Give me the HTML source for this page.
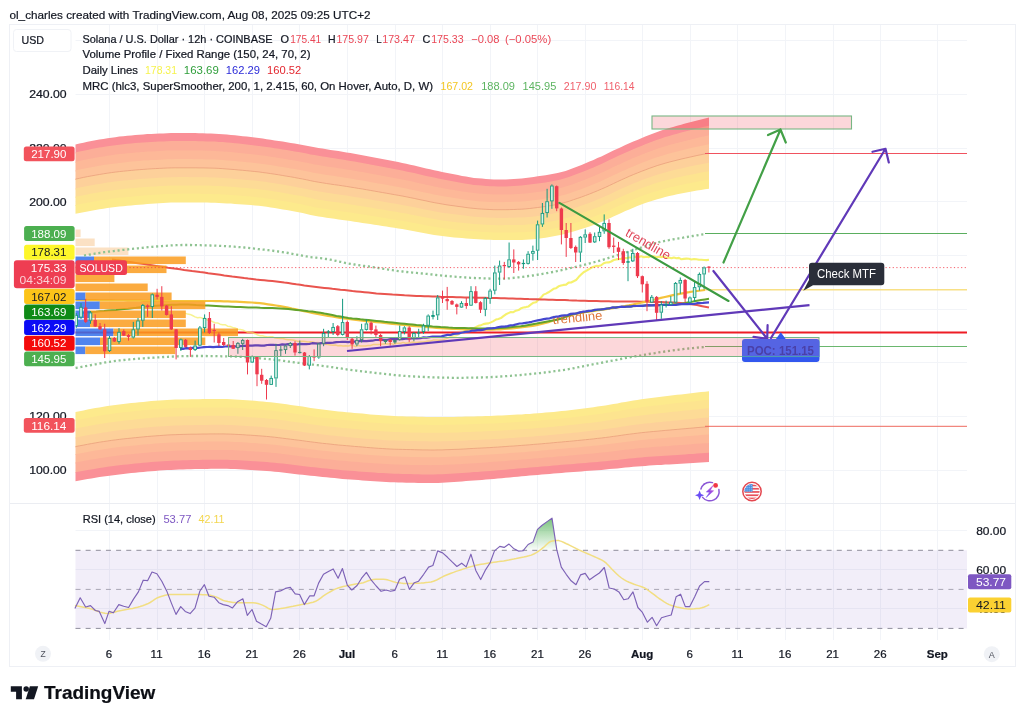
<!DOCTYPE html>
<html lang="en"><head><meta charset="utf-8"><title>SOLUSD chart</title>
<style>html,body{margin:0;padding:0;background:#fff}body{width:1024px;height:721px;overflow:hidden}svg{display:block}text{font-family:"Liberation Sans", Arial, sans-serif}</style></head><body>
<svg width="1024" height="721" viewBox="0 0 1024 721">
<defs>
<linearGradient id="rsig" x1="0" y1="0" x2="0" y2="1"><stop offset="0" stop-color="#4caf50" stop-opacity="0.75"/><stop offset="1" stop-color="#4caf50" stop-opacity="0.02"/></linearGradient>
<linearGradient id="bolt" x1="0" y1="1" x2="1" y2="0"><stop offset="0" stop-color="#6a4df5"/><stop offset="1" stop-color="#c44bd0"/></linearGradient>
<clipPath id="flagclip"><circle cx="752" cy="491.5" r="7.6"/></clipPath>
<clipPath id="mainclip"><rect x="75.5" y="25" width="891.5" height="478"/></clipPath>
</defs>
<rect width="1024" height="721" fill="#ffffff"/>
<text x="9.5" y="18.5" font-size="11.5" fill="#131722" stroke="#131722" stroke-width="0.2" textLength="361" lengthAdjust="spacingAndGlyphs">ol_charles created with TradingView.com, Aug 08, 2025 09:25 UTC+2</text>
<rect x="9.5" y="24.5" width="1006" height="642" fill="none" stroke="#eef0f5" stroke-width="1"/>
<path d="M109.5 25 V640 M157.5 25 V640 M204.5 25 V640 M252.5 25 V640 M299.5 25 V640 M347.5 25 V640 M395.5 25 V640 M442.5 25 V640 M490.5 25 V640 M537.5 25 V640 M585.5 25 V640 M642.5 25 V640 M690.5 25 V640 M737.5 25 V640 M785.5 25 V640 M833.5 25 V640 M880.5 25 V640 M937.5 25 V640 M75.5 40.5 H967 M75.5 94.5 H967 M75.5 148.5 H967 M75.5 201.5 H967 M75.5 255.5 H967 M75.5 309.5 H967 M75.5 362.5 H967 M75.5 416.5 H967 M75.5 470.5 H967 M75.5 530.5 H967 M75.5 569.5 H967 M75.5 608.5 H967" stroke="#f2f4f8" stroke-width="1" fill="none"/>
<path d="M10 503.5 H1015" stroke="#ebedf2" stroke-width="1" fill="none"/>
<polygon points="75.5,144.5 79.5,143.6 83.5,142.7 87.5,141.8 91.4,141 95.4,140.3 99.4,139.6 103.4,138.9 107.4,138.3 111.4,137.7 115.3,137.2 119.3,136.6 123.3,136.2 127.3,135.8 131.3,135.4 135.3,135 139.2,134.7 143.2,134.4 147.2,134.1 151.2,133.9 155.2,133.8 159.2,133.6 163.2,133.4 167.1,133.2 171.1,133.1 175.1,133 179.1,133 183.1,133 187.1,133 191,133.1 195,133.1 199,133.2 203,133.3 207,133.4 211,133.5 214.9,133.7 218.9,133.9 222.9,134.2 226.9,134.5 230.9,134.9 234.9,135.3 238.9,135.8 242.8,136.2 246.8,136.6 250.8,137.1 254.8,137.6 258.8,138.1 262.8,138.6 266.7,139.2 270.7,139.8 274.7,140.4 278.7,141 282.7,141.6 286.7,142.3 290.7,142.9 294.6,143.6 298.6,144.3 302.6,145 306.6,145.7 310.6,146.5 314.6,147.2 318.5,147.9 322.5,148.6 326.5,149.2 330.5,149.9 334.5,150.5 338.5,151.1 342.4,151.7 346.4,152.4 350.4,153.1 354.4,153.8 358.4,154.5 362.4,155.2 366.4,155.9 370.3,156.7 374.3,157.4 378.3,158.2 382.3,159 386.3,159.7 390.3,160.5 394.2,161.3 398.2,162.1 402.2,163 406.2,163.8 410.2,164.7 414.2,165.6 418.1,166.5 422.1,167.4 426.1,168.4 430.1,169.3 434.1,170.2 438.1,171.1 442.1,171.9 446,172.7 450,173.5 454,174.3 458,175.1 462,175.9 466,176.6 469.9,177.3 473.9,177.9 477.9,178.3 481.9,178.6 485.9,178.9 489.9,179.2 493.8,179.4 497.8,179.5 501.8,179.5 505.8,179.4 509.8,179.2 513.8,178.9 517.8,178.7 521.7,178.4 525.7,178 529.7,177.5 533.7,176.9 537.7,176.3 541.7,175.8 545.6,175.2 549.6,174.5 553.6,173.8 557.6,173 561.6,172.1 565.6,170.9 569.6,169.5 573.5,168 577.5,166.5 581.5,164.9 585.5,163.3 589.5,161.6 593.5,159.9 597.4,158.1 601.4,156.4 605.4,154.5 609.4,152.6 613.4,150.6 617.4,148.7 621.3,146.9 625.3,145.1 629.3,143.3 633.3,141.6 637.3,139.9 641.3,138.2 645.3,136.6 649.2,135 653.2,133.4 657.2,132 661.2,130.6 665.2,129.3 669.2,128.1 673.1,126.9 677.1,125.8 681.1,124.7 685.1,123.6 689.1,122.5 693.1,121.5 697,120.4 701,119.4 705,118.4 709,117.5 709,126.6 705,127.5 701,128.4 697,129.4 693.1,130.4 689.1,131.4 685.1,132.4 681.1,133.5 677.1,134.6 673.1,135.7 669.2,136.8 665.2,138 661.2,139.3 657.2,140.6 653.2,142.1 649.2,143.6 645.3,145.1 641.3,146.8 637.3,148.4 633.3,150.1 629.3,151.8 625.3,153.6 621.3,155.4 617.4,157.2 613.4,159.1 609.4,161 605.4,162.9 601.4,164.8 597.4,166.6 593.5,168.3 589.5,170 585.5,171.6 581.5,173.2 577.5,174.7 573.5,176.2 569.6,177.7 565.6,179 561.6,180.2 557.6,181.1 553.6,181.9 549.6,182.6 545.6,183.3 541.7,183.9 537.7,184.4 533.7,185 529.7,185.5 525.7,186 521.7,186.3 517.8,186.6 513.8,186.9 509.8,187.1 505.8,187.3 501.8,187.3 497.8,187.3 493.8,187.2 489.9,187.1 485.9,186.8 481.9,186.5 477.9,186.2 473.9,185.8 469.9,185.2 466,184.6 462,183.9 458,183.2 454,182.4 450,181.7 446,181 442.1,180.2 438.1,179.4 434.1,178.5 430.1,177.7 426.1,176.8 422.1,175.9 418.1,174.9 414.2,174 410.2,173.2 406.2,172.3 402.2,171.5 398.2,170.7 394.2,169.9 390.3,169.1 386.3,168.3 382.3,167.6 378.3,166.8 374.3,166.1 370.3,165.3 366.4,164.6 362.4,163.9 358.4,163.2 354.4,162.5 350.4,161.8 346.4,161.1 342.4,160.5 338.5,159.9 334.5,159.2 330.5,158.6 326.5,158 322.5,157.4 318.5,156.7 314.6,156 310.6,155.3 306.6,154.5 302.6,153.7 298.6,153 294.6,152.3 290.7,151.6 286.7,151 282.7,150.3 278.7,149.7 274.7,149.1 270.7,148.5 266.7,147.9 262.8,147.3 258.8,146.8 254.8,146.3 250.8,145.8 246.8,145.4 242.8,145 238.9,144.5 234.9,144.1 230.9,143.7 226.9,143.4 222.9,143 218.9,142.8 214.9,142.5 211,142.4 207,142.3 203,142.2 199,142.1 195,142 191,142 187.1,141.9 183.1,141.9 179.1,141.9 175.1,141.9 171.1,142 167.1,142.1 163.2,142.3 159.2,142.5 155.2,142.7 151.2,142.9 147.2,143.1 143.2,143.3 139.2,143.6 135.3,144 131.3,144.3 127.3,144.7 123.3,145.1 119.3,145.6 115.3,146.1 111.4,146.6 107.4,147.2 103.4,147.9 99.4,148.5 95.4,149.2 91.4,150 87.5,150.8 83.5,151.6 79.5,152.5 75.5,153.4" fill="#fa9097"/>
<polygon points="75.5,152.5 79.5,151.6 83.5,150.7 87.5,149.9 91.4,149.1 95.4,148.3 99.4,147.6 103.4,147 107.4,146.3 111.4,145.7 115.3,145.2 119.3,144.7 123.3,144.2 127.3,143.8 131.3,143.4 135.3,143.1 139.2,142.7 143.2,142.4 147.2,142.2 151.2,142 155.2,141.8 159.2,141.6 163.2,141.4 167.1,141.2 171.1,141.1 175.1,141 179.1,141 183.1,141 187.1,141 191,141.1 195,141.1 199,141.2 203,141.3 207,141.4 211,141.5 214.9,141.6 218.9,141.9 222.9,142.1 226.9,142.5 230.9,142.8 234.9,143.2 238.9,143.6 242.8,144.1 246.8,144.5 250.8,144.9 254.8,145.4 258.8,145.9 262.8,146.4 266.7,147 270.7,147.6 274.7,148.2 278.7,148.8 282.7,149.4 286.7,150.1 290.7,150.7 294.6,151.4 298.6,152.1 302.6,152.8 306.6,153.6 310.6,154.4 314.6,155.1 318.5,155.8 322.5,156.5 326.5,157.1 330.5,157.7 334.5,158.3 338.5,159 342.4,159.6 346.4,160.2 350.4,160.9 354.4,161.6 358.4,162.3 362.4,163 366.4,163.7 370.3,164.4 374.3,165.2 378.3,165.9 382.3,166.7 386.3,167.4 390.3,168.2 394.2,169 398.2,169.8 402.2,170.6 406.2,171.4 410.2,172.3 414.2,173.1 418.1,174 422.1,175 426.1,175.9 430.1,176.8 434.1,177.6 438.1,178.5 442.1,179.3 446,180.1 450,180.8 454,181.5 458,182.3 462,183 466,183.7 469.9,184.3 473.9,184.9 477.9,185.3 481.9,185.6 485.9,185.9 489.9,186.2 493.8,186.3 497.8,186.4 501.8,186.4 505.8,186.4 509.8,186.2 513.8,186 517.8,185.7 521.7,185.4 525.7,185.1 529.7,184.6 533.7,184.1 537.7,183.5 541.7,183 545.6,182.4 549.6,181.7 553.6,181 557.6,180.2 561.6,179.3 565.6,178.1 569.6,176.8 573.5,175.3 577.5,173.8 581.5,172.3 585.5,170.7 589.5,169.1 593.5,167.4 597.4,165.7 601.4,163.9 605.4,162 609.4,160.1 613.4,158.2 617.4,156.3 621.3,154.5 625.3,152.7 629.3,150.9 633.3,149.2 637.3,147.5 641.3,145.9 645.3,144.2 649.2,142.7 653.2,141.2 657.2,139.7 661.2,138.4 665.2,137.1 669.2,135.9 673.1,134.8 677.1,133.7 681.1,132.6 685.1,131.5 689.1,130.5 693.1,129.5 697,128.5 701,127.5 705,126.6 709,125.7 709,136.2 705,137.1 701,137.9 697,138.9 693.1,139.8 689.1,140.8 685.1,141.8 681.1,142.8 677.1,143.8 673.1,144.9 669.2,146 665.2,147.2 661.2,148.4 657.2,149.7 653.2,151.1 649.2,152.6 645.3,154.1 641.3,155.7 637.3,157.3 633.3,159 629.3,160.7 625.3,162.5 621.3,164.3 617.4,166.1 613.4,168 609.4,169.9 605.4,171.8 601.4,173.6 597.4,175.4 593.5,177.1 589.5,178.7 585.5,180.3 581.5,181.8 577.5,183.3 573.5,184.8 569.6,186.2 565.6,187.5 561.6,188.6 557.6,189.6 553.6,190.4 549.6,191.1 545.6,191.7 541.7,192.3 537.7,192.8 533.7,193.4 529.7,193.9 525.7,194.3 521.7,194.7 517.8,194.9 513.8,195.1 509.8,195.3 505.8,195.4 501.8,195.5 497.8,195.5 493.8,195.4 489.9,195.2 485.9,195 481.9,194.7 477.9,194.5 473.9,194 469.9,193.5 466,192.9 462,192.3 458,191.6 454,190.9 450,190.3 446,189.6 442.1,188.9 438.1,188.1 434.1,187.3 430.1,186.4 426.1,185.6 422.1,184.7 418.1,183.8 414.2,182.9 410.2,182 406.2,181.2 402.2,180.4 398.2,179.6 394.2,178.9 390.3,178.1 386.3,177.4 382.3,176.6 378.3,175.9 374.3,175.2 370.3,174.4 366.4,173.7 362.4,173 358.4,172.3 354.4,171.6 350.4,171 346.4,170.3 342.4,169.7 338.5,169.1 334.5,168.5 330.5,167.9 326.5,167.3 322.5,166.6 318.5,166 314.6,165.3 310.6,164.5 306.6,163.7 302.6,162.9 298.6,162.2 294.6,161.5 290.7,160.8 286.7,160.1 282.7,159.5 278.7,158.8 274.7,158.2 270.7,157.6 266.7,157 262.8,156.4 258.8,155.9 254.8,155.4 250.8,155 246.8,154.6 242.8,154.2 238.9,153.8 234.9,153.4 230.9,153 226.9,152.7 222.9,152.4 218.9,152.1 214.9,151.9 211,151.7 207,151.6 203,151.5 199,151.4 195,151.4 191,151.3 187.1,151.3 183.1,151.3 179.1,151.3 175.1,151.3 171.1,151.4 167.1,151.5 163.2,151.7 159.2,151.9 155.2,152.1 151.2,152.3 147.2,152.5 143.2,152.8 139.2,153.1 135.3,153.4 131.3,153.8 127.3,154.2 123.3,154.6 119.3,155 115.3,155.5 111.4,156.1 107.4,156.7 103.4,157.3 99.4,157.9 95.4,158.6 91.4,159.4 87.5,160.1 83.5,161 79.5,161.8 75.5,162.7" fill="#fcae98"/>
<polygon points="75.5,161.8 79.5,160.9 83.5,160.1 87.5,159.2 91.4,158.5 95.4,157.7 99.4,157 103.4,156.4 107.4,155.8 111.4,155.2 115.3,154.6 119.3,154.1 123.3,153.7 127.3,153.3 131.3,152.9 135.3,152.5 139.2,152.2 143.2,151.9 147.2,151.6 151.2,151.4 155.2,151.2 159.2,151 163.2,150.8 167.1,150.6 171.1,150.5 175.1,150.4 179.1,150.4 183.1,150.4 187.1,150.4 191,150.4 195,150.5 199,150.5 203,150.6 207,150.7 211,150.8 214.9,151 218.9,151.2 222.9,151.5 226.9,151.8 230.9,152.1 234.9,152.5 238.9,152.9 242.8,153.3 246.8,153.7 250.8,154.1 254.8,154.5 258.8,155 262.8,155.5 266.7,156.1 270.7,156.7 274.7,157.3 278.7,157.9 282.7,158.6 286.7,159.2 290.7,159.9 294.6,160.6 298.6,161.3 302.6,162 306.6,162.8 310.6,163.6 314.6,164.4 318.5,165.1 322.5,165.7 326.5,166.4 330.5,167 334.5,167.6 338.5,168.2 342.4,168.8 346.4,169.4 350.4,170.1 354.4,170.7 358.4,171.4 362.4,172.1 366.4,172.8 370.3,173.5 374.3,174.3 378.3,175 382.3,175.7 386.3,176.5 390.3,177.2 394.2,178 398.2,178.7 402.2,179.5 406.2,180.3 410.2,181.1 414.2,182 418.1,182.9 422.1,183.8 426.1,184.7 430.1,185.5 434.1,186.4 438.1,187.2 442.1,188 446,188.7 450,189.4 454,190 458,190.7 462,191.4 466,192 469.9,192.6 473.9,193.1 477.9,193.6 481.9,193.8 485.9,194.1 489.9,194.3 493.8,194.5 497.8,194.6 501.8,194.6 505.8,194.5 509.8,194.4 513.8,194.2 517.8,194 521.7,193.8 525.7,193.4 529.7,193 533.7,192.5 537.7,191.9 541.7,191.4 545.6,190.8 549.6,190.2 553.6,189.5 557.6,188.7 561.6,187.7 565.6,186.6 569.6,185.3 573.5,183.9 577.5,182.4 581.5,180.9 585.5,179.4 589.5,177.8 593.5,176.2 597.4,174.5 601.4,172.7 605.4,170.9 609.4,169 613.4,167.1 617.4,165.2 621.3,163.4 625.3,161.6 629.3,159.8 633.3,158.1 637.3,156.4 641.3,154.8 645.3,153.2 649.2,151.7 653.2,150.2 657.2,148.8 661.2,147.5 665.2,146.3 669.2,145.1 673.1,144 677.1,142.9 681.1,141.9 685.1,140.9 689.1,139.9 693.1,138.9 697,138 701,137 705,136.2 709,135.3 709,145.1 705,145.9 701,146.8 697,147.6 693.1,148.5 689.1,149.5 685.1,150.4 681.1,151.4 677.1,152.4 673.1,153.4 669.2,154.5 665.2,155.6 661.2,156.8 657.2,158.1 653.2,159.5 649.2,160.9 645.3,162.4 641.3,164 637.3,165.6 633.3,167.3 629.3,169 625.3,170.8 621.3,172.5 617.4,174.4 613.4,176.2 609.4,178.1 605.4,180 601.4,181.8 597.4,183.6 593.5,185.2 589.5,186.8 585.5,188.4 581.5,189.9 577.5,191.3 573.5,192.7 569.6,194.1 565.6,195.4 561.6,196.5 557.6,197.4 553.6,198.2 549.6,198.9 545.6,199.5 541.7,200.1 537.7,200.6 533.7,201.2 529.7,201.6 525.7,202.1 521.7,202.4 517.8,202.6 513.8,202.7 509.8,202.9 505.8,203 501.8,203.1 497.8,203.1 493.8,203 489.9,202.8 485.9,202.6 481.9,202.4 477.9,202.1 473.9,201.7 469.9,201.2 466,200.7 462,200.1 458,199.5 454,198.8 450,198.2 446,197.6 442.1,196.9 438.1,196.1 434.1,195.4 430.1,194.5 426.1,193.7 422.1,192.8 418.1,192 414.2,191.1 410.2,190.3 406.2,189.5 402.2,188.7 398.2,187.9 394.2,187.2 390.3,186.4 386.3,185.7 382.3,185 378.3,184.3 374.3,183.6 370.3,182.9 366.4,182.2 362.4,181.5 358.4,180.8 354.4,180.1 350.4,179.5 346.4,178.8 342.4,178.2 338.5,177.6 334.5,177 330.5,176.4 326.5,175.8 322.5,175.2 318.5,174.5 314.6,173.8 310.6,173 306.6,172.2 302.6,171.4 298.6,170.7 294.6,169.9 290.7,169.3 286.7,168.6 282.7,167.9 278.7,167.3 274.7,166.7 270.7,166 266.7,165.5 262.8,164.9 258.8,164.4 254.8,163.9 250.8,163.5 246.8,163.1 242.8,162.7 238.9,162.3 234.9,161.9 230.9,161.6 226.9,161.3 222.9,161 218.9,160.7 214.9,160.5 211,160.4 207,160.3 203,160.2 199,160.1 195,160.1 191,160 187.1,160 183.1,160 179.1,160 175.1,160 171.1,160.1 167.1,160.2 163.2,160.4 159.2,160.6 155.2,160.8 151.2,161 147.2,161.3 143.2,161.5 139.2,161.8 135.3,162.2 131.3,162.5 127.3,162.9 123.3,163.3 119.3,163.8 115.3,164.3 111.4,164.8 107.4,165.4 103.4,166 99.4,166.7 95.4,167.3 91.4,168.1 87.5,168.8 83.5,169.7 79.5,170.5 75.5,171.4" fill="#fdb898"/>
<polygon points="75.5,170.5 79.5,169.6 83.5,168.8 87.5,167.9 91.4,167.2 95.4,166.4 99.4,165.8 103.4,165.1 107.4,164.5 111.4,163.9 115.3,163.4 119.3,162.9 123.3,162.4 127.3,162 131.3,161.6 135.3,161.3 139.2,160.9 143.2,160.6 147.2,160.4 151.2,160.1 155.2,159.9 159.2,159.7 163.2,159.5 167.1,159.3 171.1,159.2 175.1,159.1 179.1,159.1 183.1,159.1 187.1,159.1 191,159.1 195,159.2 199,159.2 203,159.3 207,159.4 211,159.5 214.9,159.6 218.9,159.8 222.9,160.1 226.9,160.4 230.9,160.7 234.9,161 238.9,161.4 242.8,161.8 246.8,162.2 250.8,162.6 254.8,163 258.8,163.5 262.8,164 266.7,164.6 270.7,165.1 274.7,165.8 278.7,166.4 282.7,167 286.7,167.7 290.7,168.4 294.6,169 298.6,169.8 302.6,170.5 306.6,171.3 310.6,172.1 314.6,172.9 318.5,173.6 322.5,174.3 326.5,174.9 330.5,175.5 334.5,176.1 338.5,176.7 342.4,177.3 346.4,177.9 350.4,178.6 354.4,179.2 358.4,179.9 362.4,180.6 366.4,181.3 370.3,182 374.3,182.7 378.3,183.4 382.3,184.1 386.3,184.8 390.3,185.5 394.2,186.3 398.2,187 402.2,187.8 406.2,188.6 410.2,189.4 414.2,190.2 418.1,191.1 422.1,191.9 426.1,192.8 430.1,193.6 434.1,194.5 438.1,195.2 442.1,196 446,196.7 450,197.3 454,197.9 458,198.6 462,199.2 466,199.8 469.9,200.3 473.9,200.8 477.9,201.2 481.9,201.5 485.9,201.7 489.9,201.9 493.8,202.1 497.8,202.2 501.8,202.2 505.8,202.1 509.8,202 513.8,201.8 517.8,201.7 521.7,201.5 525.7,201.2 529.7,200.7 533.7,200.3 537.7,199.7 541.7,199.2 545.6,198.6 549.6,198 553.6,197.3 557.6,196.5 561.6,195.6 565.6,194.5 569.6,193.2 573.5,191.8 577.5,190.4 581.5,189 585.5,187.5 589.5,185.9 593.5,184.3 597.4,182.7 601.4,180.9 605.4,179.1 609.4,177.2 613.4,175.3 617.4,173.5 621.3,171.6 625.3,169.9 629.3,168.1 633.3,166.4 637.3,164.7 641.3,163.1 645.3,161.5 649.2,160 653.2,158.6 657.2,157.2 661.2,155.9 665.2,154.7 669.2,153.6 673.1,152.5 677.1,151.5 681.1,150.5 685.1,149.5 689.1,148.6 693.1,147.6 697,146.7 701,145.9 705,145 709,144.2 709,154 705,154.8 701,155.6 697,156.4 693.1,157.3 689.1,158.2 685.1,159.1 681.1,160 677.1,161 673.1,162 669.2,163 665.2,164.1 661.2,165.3 657.2,166.5 653.2,167.9 649.2,169.3 645.3,170.8 641.3,172.3 637.3,173.9 633.3,175.5 629.3,177.2 625.3,179 621.3,180.8 617.4,182.6 613.4,184.5 609.4,186.4 605.4,188.3 601.4,190 597.4,191.7 593.5,193.3 589.5,194.9 585.5,196.4 581.5,197.9 577.5,199.3 573.5,200.6 569.6,202 565.6,203.2 561.6,204.3 557.6,205.2 553.6,206 549.6,206.7 545.6,207.4 541.7,207.9 537.7,208.4 533.7,208.9 529.7,209.4 525.7,209.8 521.7,210.1 517.8,210.2 513.8,210.4 509.8,210.5 505.8,210.6 501.8,210.6 497.8,210.6 493.8,210.6 489.9,210.4 485.9,210.2 481.9,210 477.9,209.7 473.9,209.3 469.9,208.9 466,208.4 462,207.8 458,207.3 454,206.7 450,206.2 446,205.6 442.1,204.9 438.1,204.2 434.1,203.5 430.1,202.7 426.1,201.8 422.1,201 418.1,200.2 414.2,199.3 410.2,198.5 406.2,197.7 402.2,196.9 398.2,196.2 394.2,195.5 390.3,194.8 386.3,194.1 382.3,193.4 378.3,192.7 374.3,192 370.3,191.3 366.4,190.6 362.4,189.9 358.4,189.3 354.4,188.6 350.4,188 346.4,187.3 342.4,186.7 338.5,186.1 334.5,185.6 330.5,185 326.5,184.4 322.5,183.7 318.5,183.1 314.6,182.4 310.6,181.6 306.6,180.7 302.6,179.9 298.6,179.2 294.6,178.4 290.7,177.7 286.7,177.1 282.7,176.4 278.7,175.7 274.7,175.1 270.7,174.5 266.7,173.9 262.8,173.4 258.8,172.8 254.8,172.4 250.8,172 246.8,171.6 242.8,171.2 238.9,170.9 234.9,170.5 230.9,170.2 226.9,169.9 222.9,169.6 218.9,169.3 214.9,169.1 211,169 207,168.9 203,168.8 199,168.8 195,168.7 191,168.7 187.1,168.7 183.1,168.7 179.1,168.7 175.1,168.7 171.1,168.8 167.1,168.9 163.2,169.1 159.2,169.3 155.2,169.5 151.2,169.7 147.2,170 143.2,170.3 139.2,170.6 135.3,170.9 131.3,171.3 127.3,171.7 123.3,172.1 119.3,172.5 115.3,173 111.4,173.5 107.4,174.1 103.4,174.7 99.4,175.4 95.4,176.1 91.4,176.8 87.5,177.5 83.5,178.3 79.5,179.2 75.5,180" fill="#fdc39a"/>
<polygon points="75.5,179.1 79.5,178.3 83.5,177.4 87.5,176.6 91.4,175.9 95.4,175.2 99.4,174.5 103.4,173.8 107.4,173.2 111.4,172.6 115.3,172.1 119.3,171.6 123.3,171.2 127.3,170.8 131.3,170.4 135.3,170 139.2,169.7 143.2,169.4 147.2,169.1 151.2,168.8 155.2,168.6 159.2,168.4 163.2,168.2 167.1,168 171.1,167.9 175.1,167.8 179.1,167.8 183.1,167.8 187.1,167.8 191,167.8 195,167.8 199,167.9 203,167.9 207,168 211,168.1 214.9,168.2 218.9,168.4 222.9,168.7 226.9,169 230.9,169.3 234.9,169.6 238.9,170 242.8,170.3 246.8,170.7 250.8,171.1 254.8,171.5 258.8,171.9 262.8,172.5 266.7,173 270.7,173.6 274.7,174.2 278.7,174.8 282.7,175.5 286.7,176.2 290.7,176.8 294.6,177.5 298.6,178.3 302.6,179 306.6,179.8 310.6,180.7 314.6,181.5 318.5,182.2 322.5,182.8 326.5,183.5 330.5,184.1 334.5,184.7 338.5,185.2 342.4,185.8 346.4,186.4 350.4,187.1 354.4,187.7 358.4,188.4 362.4,189 366.4,189.7 370.3,190.4 374.3,191.1 378.3,191.8 382.3,192.5 386.3,193.2 390.3,193.9 394.2,194.6 398.2,195.3 402.2,196 406.2,196.8 410.2,197.6 414.2,198.4 418.1,199.3 422.1,200.1 426.1,200.9 430.1,201.8 434.1,202.6 438.1,203.3 442.1,204 446,204.7 450,205.3 454,205.8 458,206.4 462,206.9 466,207.5 469.9,208 473.9,208.4 477.9,208.8 481.9,209.1 485.9,209.3 489.9,209.5 493.8,209.7 497.8,209.7 501.8,209.7 505.8,209.7 509.8,209.6 513.8,209.5 517.8,209.3 521.7,209.2 525.7,208.9 529.7,208.5 533.7,208 537.7,207.5 541.7,207 545.6,206.5 549.6,205.8 553.6,205.1 557.6,204.3 561.6,203.4 565.6,202.3 569.6,201.1 573.5,199.7 577.5,198.4 581.5,197 585.5,195.5 589.5,194 593.5,192.4 597.4,190.8 601.4,189.1 605.4,187.4 609.4,185.5 613.4,183.6 617.4,181.7 621.3,179.9 625.3,178.1 629.3,176.3 633.3,174.6 637.3,173 641.3,171.4 645.3,169.9 649.2,168.4 653.2,167 657.2,165.6 661.2,164.4 665.2,163.2 669.2,162.1 673.1,161.1 677.1,160.1 681.1,159.1 685.1,158.2 689.1,157.3 693.1,156.4 697,155.5 701,154.7 705,153.9 709,153.1 709,163.6 705,164.3 701,165.1 697,165.9 693.1,166.7 689.1,167.5 685.1,168.4 681.1,169.3 677.1,170.2 673.1,171.2 669.2,172.2 665.2,173.3 661.2,174.4 657.2,175.6 653.2,176.9 649.2,178.3 645.3,179.7 641.3,181.2 637.3,182.8 633.3,184.4 629.3,186.2 625.3,187.9 621.3,189.7 617.4,191.5 613.4,193.4 609.4,195.3 605.4,197.1 601.4,198.9 597.4,200.5 593.5,202.1 589.5,203.7 585.5,205.1 581.5,206.5 577.5,207.9 573.5,209.2 569.6,210.5 565.6,211.7 561.6,212.7 557.6,213.6 553.6,214.4 549.6,215.2 545.6,215.8 541.7,216.4 537.7,216.9 533.7,217.3 529.7,217.8 525.7,218.1 521.7,218.4 517.8,218.5 513.8,218.6 509.8,218.7 505.8,218.8 501.8,218.8 497.8,218.8 493.8,218.7 489.9,218.6 485.9,218.4 481.9,218.2 477.9,217.9 473.9,217.6 469.9,217.2 466,216.7 462,216.2 458,215.7 454,215.2 450,214.7 446,214.2 442.1,213.6 438.1,212.9 434.1,212.2 430.1,211.4 426.1,210.6 422.1,209.8 418.1,209 414.2,208.2 410.2,207.4 406.2,206.6 402.2,205.9 398.2,205.2 394.2,204.5 390.3,203.8 386.3,203.1 382.3,202.4 378.3,201.7 374.3,201.1 370.3,200.4 366.4,199.7 362.4,199.1 358.4,198.4 354.4,197.8 350.4,197.1 346.4,196.5 342.4,195.9 338.5,195.4 334.5,194.8 330.5,194.2 326.5,193.6 322.5,193 318.5,192.3 314.6,191.6 310.6,190.8 306.6,189.9 302.6,189.1 298.6,188.3 294.6,187.6 290.7,186.9 286.7,186.2 282.7,185.5 278.7,184.9 274.7,184.2 270.7,183.6 266.7,183 262.8,182.5 258.8,182 254.8,181.5 250.8,181.2 246.8,180.8 242.8,180.5 238.9,180.1 234.9,179.8 230.9,179.5 226.9,179.2 222.9,178.9 218.9,178.7 214.9,178.5 211,178.3 207,178.2 203,178.2 199,178.1 195,178.1 191,178.1 187.1,178 183.1,178 179.1,178 175.1,178.1 171.1,178.2 167.1,178.3 163.2,178.5 159.2,178.7 155.2,178.9 151.2,179.2 147.2,179.4 143.2,179.7 139.2,180 135.3,180.4 131.3,180.8 127.3,181.1 123.3,181.5 119.3,181.9 115.3,182.4 111.4,183 107.4,183.5 103.4,184.1 99.4,184.8 95.4,185.5 91.4,186.2 87.5,186.9 83.5,187.7 79.5,188.5 75.5,189.4" fill="#fdd09a"/>
<polygon points="75.5,188.5 79.5,187.6 83.5,186.8 87.5,186 91.4,185.3 95.4,184.6 99.4,183.9 103.4,183.2 107.4,182.6 111.4,182.1 115.3,181.5 119.3,181 123.3,180.6 127.3,180.2 131.3,179.9 135.3,179.5 139.2,179.1 143.2,178.8 147.2,178.5 151.2,178.3 155.2,178 159.2,177.8 163.2,177.6 167.1,177.4 171.1,177.3 175.1,177.2 179.1,177.1 183.1,177.1 187.1,177.1 191,177.2 195,177.2 199,177.2 203,177.3 207,177.3 211,177.4 214.9,177.6 218.9,177.8 222.9,178 226.9,178.3 230.9,178.6 234.9,178.9 238.9,179.2 242.8,179.6 246.8,179.9 250.8,180.3 254.8,180.6 258.8,181.1 262.8,181.6 266.7,182.1 270.7,182.7 274.7,183.3 278.7,184 282.7,184.6 286.7,185.3 290.7,186 294.6,186.7 298.6,187.4 302.6,188.2 306.6,189 310.6,189.9 314.6,190.7 318.5,191.4 322.5,192.1 326.5,192.7 330.5,193.3 334.5,193.9 338.5,194.5 342.4,195 346.4,195.6 350.4,196.2 354.4,196.9 358.4,197.5 362.4,198.2 366.4,198.8 370.3,199.5 374.3,200.2 378.3,200.8 382.3,201.5 386.3,202.2 390.3,202.9 394.2,203.6 398.2,204.3 402.2,205 406.2,205.7 410.2,206.5 414.2,207.3 418.1,208.1 422.1,208.9 426.1,209.7 430.1,210.5 434.1,211.3 438.1,212 442.1,212.7 446,213.3 450,213.8 454,214.3 458,214.8 462,215.3 466,215.8 469.9,216.3 473.9,216.7 477.9,217 481.9,217.3 485.9,217.5 489.9,217.7 493.8,217.8 497.8,217.9 501.8,217.9 505.8,217.9 509.8,217.8 513.8,217.7 517.8,217.6 521.7,217.5 525.7,217.2 529.7,216.9 533.7,216.4 537.7,216 541.7,215.5 545.6,214.9 549.6,214.3 553.6,213.5 557.6,212.7 561.6,211.8 565.6,210.8 569.6,209.6 573.5,208.3 577.5,207 581.5,205.6 585.5,204.2 589.5,202.8 593.5,201.2 597.4,199.6 601.4,198 605.4,196.2 609.4,194.4 613.4,192.5 617.4,190.6 621.3,188.8 625.3,187 629.3,185.3 633.3,183.5 637.3,181.9 641.3,180.3 645.3,178.8 649.2,177.4 653.2,176 657.2,174.7 661.2,173.5 665.2,172.4 669.2,171.3 673.1,170.3 677.1,169.3 681.1,168.4 685.1,167.5 689.1,166.6 693.1,165.8 697,165 701,164.2 705,163.4 709,162.7 709,172.2 705,172.8 701,173.5 697,174.3 693.1,175.1 689.1,175.9 685.1,176.7 681.1,177.6 677.1,178.5 673.1,179.4 669.2,180.4 665.2,181.4 661.2,182.5 657.2,183.7 653.2,185 649.2,186.3 645.3,187.7 641.3,189.2 637.3,190.7 633.3,192.4 629.3,194.1 625.3,195.9 621.3,197.6 617.4,199.4 613.4,201.3 609.4,203.2 605.4,205 601.4,206.8 597.4,208.4 593.5,209.9 589.5,211.4 585.5,212.9 581.5,214.2 577.5,215.5 573.5,216.8 569.6,218.1 565.6,219.2 561.6,220.2 557.6,221.1 553.6,221.9 549.6,222.7 545.6,223.3 541.7,223.9 537.7,224.4 533.7,224.8 529.7,225.2 525.7,225.6 521.7,225.8 517.8,225.9 513.8,225.9 509.8,226 505.8,226 501.8,226.1 497.8,226.1 493.8,226 489.9,225.9 485.9,225.7 481.9,225.5 477.9,225.2 473.9,224.9 469.9,224.5 466,224.1 462,223.7 458,223.3 454,222.8 450,222.3 446,221.9 442.1,221.3 438.1,220.7 434.1,220 430.1,219.2 426.1,218.5 422.1,217.7 418.1,216.9 414.2,216.1 410.2,215.3 406.2,214.5 402.2,213.8 398.2,213.1 394.2,212.4 390.3,211.8 386.3,211.1 382.3,210.4 378.3,209.8 374.3,209.1 370.3,208.5 366.4,207.8 362.4,207.2 358.4,206.6 354.4,205.9 350.4,205.3 346.4,204.7 342.4,204.1 338.5,203.5 334.5,203 330.5,202.4 326.5,201.8 322.5,201.2 318.5,200.6 314.6,199.8 310.6,199 306.6,198.1 302.6,197.2 298.6,196.5 294.6,195.8 290.7,195.1 286.7,194.4 282.7,193.7 278.7,193 274.7,192.4 270.7,191.7 266.7,191.2 262.8,190.6 258.8,190.1 254.8,189.7 250.8,189.3 246.8,189 242.8,188.6 238.9,188.3 234.9,188 230.9,187.7 226.9,187.4 222.9,187.2 218.9,187 214.9,186.8 211,186.6 207,186.5 203,186.5 199,186.4 195,186.4 191,186.4 187.1,186.4 183.1,186.4 179.1,186.4 175.1,186.4 171.1,186.5 167.1,186.6 163.2,186.8 159.2,187 155.2,187.3 151.2,187.5 147.2,187.8 143.2,188.1 139.2,188.5 135.3,188.8 131.3,189.2 127.3,189.5 123.3,189.9 119.3,190.3 115.3,190.8 111.4,191.3 107.4,191.9 103.4,192.5 99.4,193.2 95.4,193.8 91.4,194.5 87.5,195.3 83.5,196.1 79.5,196.9 75.5,197.7" fill="#fddb96"/>
<polygon points="75.5,196.8 79.5,196 83.5,195.2 87.5,194.4 91.4,193.6 95.4,192.9 99.4,192.3 103.4,191.6 107.4,191 111.4,190.4 115.3,189.9 119.3,189.4 123.3,189 127.3,188.6 131.3,188.3 135.3,187.9 139.2,187.6 143.2,187.2 147.2,186.9 151.2,186.6 155.2,186.4 159.2,186.1 163.2,185.9 167.1,185.7 171.1,185.6 175.1,185.5 179.1,185.5 183.1,185.5 187.1,185.5 191,185.5 195,185.5 199,185.5 203,185.6 207,185.6 211,185.7 214.9,185.9 218.9,186.1 222.9,186.3 226.9,186.5 230.9,186.8 234.9,187.1 238.9,187.4 242.8,187.7 246.8,188.1 250.8,188.4 254.8,188.8 258.8,189.2 262.8,189.7 266.7,190.3 270.7,190.8 274.7,191.5 278.7,192.1 282.7,192.8 286.7,193.5 290.7,194.2 294.6,194.9 298.6,195.6 302.6,196.3 306.6,197.2 310.6,198.1 314.6,198.9 318.5,199.7 322.5,200.3 326.5,200.9 330.5,201.5 334.5,202.1 338.5,202.6 342.4,203.2 346.4,203.8 350.4,204.4 354.4,205 358.4,205.7 362.4,206.3 366.4,206.9 370.3,207.6 374.3,208.2 378.3,208.9 382.3,209.5 386.3,210.2 390.3,210.9 394.2,211.5 398.2,212.2 402.2,212.9 406.2,213.6 410.2,214.4 414.2,215.2 418.1,216 422.1,216.8 426.1,217.6 430.1,218.3 434.1,219.1 438.1,219.8 442.1,220.4 446,221 450,221.4 454,221.9 458,222.4 462,222.8 466,223.2 469.9,223.6 473.9,224 477.9,224.3 481.9,224.6 485.9,224.8 489.9,225 493.8,225.1 497.8,225.2 501.8,225.2 505.8,225.1 509.8,225.1 513.8,225 517.8,225 521.7,224.9 525.7,224.7 529.7,224.3 533.7,223.9 537.7,223.5 541.7,223 545.6,222.4 549.6,221.8 553.6,221 557.6,220.2 561.6,219.3 565.6,218.3 569.6,217.2 573.5,215.9 577.5,214.6 581.5,213.3 585.5,212 589.5,210.5 593.5,209 597.4,207.5 601.4,205.9 605.4,204.1 609.4,202.3 613.4,200.4 617.4,198.5 621.3,196.7 625.3,195 629.3,193.2 633.3,191.5 637.3,189.8 641.3,188.3 645.3,186.8 649.2,185.4 653.2,184.1 657.2,182.8 661.2,181.6 665.2,180.5 669.2,179.5 673.1,178.5 677.1,177.6 681.1,176.7 685.1,175.8 689.1,175 693.1,174.2 697,173.4 701,172.6 705,171.9 709,171.3 709,180.7 705,181.4 701,182 697,182.7 693.1,183.4 689.1,184.2 685.1,185 681.1,185.8 677.1,186.7 673.1,187.6 669.2,188.5 665.2,189.6 661.2,190.6 657.2,191.8 653.2,193 649.2,194.3 645.3,195.7 641.3,197.1 637.3,198.7 633.3,200.3 629.3,202 625.3,203.8 621.3,205.6 617.4,207.3 613.4,209.2 609.4,211.1 605.4,212.9 601.4,214.6 597.4,216.2 593.5,217.7 589.5,219.2 585.5,220.6 581.5,221.9 577.5,223.2 573.5,224.4 569.6,225.6 565.6,226.7 561.6,227.7 557.6,228.6 553.6,229.4 549.6,230.2 545.6,230.8 541.7,231.4 537.7,231.8 533.7,232.3 529.7,232.7 525.7,233 521.7,233.2 517.8,233.2 513.8,233.3 509.8,233.3 505.8,233.3 501.8,233.3 497.8,233.3 493.8,233.3 489.9,233.1 485.9,233 481.9,232.8 477.9,232.5 473.9,232.2 469.9,231.9 466,231.6 462,231.2 458,230.8 454,230.4 450,230 446,229.5 442.1,229 438.1,228.4 434.1,227.7 430.1,227 426.1,226.3 422.1,225.5 418.1,224.7 414.2,224 410.2,223.2 406.2,222.5 402.2,221.7 398.2,221.1 394.2,220.4 390.3,219.8 386.3,219.1 382.3,218.5 378.3,217.8 374.3,217.2 370.3,216.6 366.4,215.9 362.4,215.3 358.4,214.7 354.4,214.1 350.4,213.5 346.4,212.9 342.4,212.3 338.5,211.7 334.5,211.2 330.5,210.6 326.5,210 322.5,209.4 318.5,208.8 314.6,208.1 310.6,207.2 306.6,206.3 302.6,205.4 298.6,204.6 294.6,203.9 290.7,203.2 286.7,202.5 282.7,201.8 278.7,201.1 274.7,200.5 270.7,199.9 266.7,199.3 262.8,198.7 258.8,198.3 254.8,197.8 250.8,197.5 246.8,197.1 242.8,196.8 238.9,196.5 234.9,196.2 230.9,195.9 226.9,195.7 222.9,195.4 218.9,195.2 214.9,195.1 211,194.9 207,194.8 203,194.8 199,194.7 195,194.7 191,194.7 187.1,194.7 183.1,194.7 179.1,194.7 175.1,194.8 171.1,194.8 167.1,195 163.2,195.2 159.2,195.4 155.2,195.6 151.2,195.9 147.2,196.2 143.2,196.5 139.2,196.9 135.3,197.2 131.3,197.6 127.3,197.9 123.3,198.3 119.3,198.7 115.3,199.2 111.4,199.7 107.4,200.3 103.4,200.9 99.4,201.5 95.4,202.2 91.4,202.9 87.5,203.6 83.5,204.4 79.5,205.2 75.5,206" fill="#fde48f"/>
<polygon points="75.5,205.1 79.5,204.3 83.5,203.5 87.5,202.7 91.4,202 95.4,201.3 99.4,200.6 103.4,200 107.4,199.4 111.4,198.8 115.3,198.3 119.3,197.8 123.3,197.4 127.3,197 131.3,196.7 135.3,196.3 139.2,196 143.2,195.6 147.2,195.3 151.2,195 155.2,194.7 159.2,194.5 163.2,194.3 167.1,194.1 171.1,193.9 175.1,193.9 179.1,193.8 183.1,193.8 187.1,193.8 191,193.8 195,193.8 199,193.8 203,193.9 207,193.9 211,194 214.9,194.2 218.9,194.3 222.9,194.5 226.9,194.8 230.9,195 234.9,195.3 238.9,195.6 242.8,195.9 246.8,196.2 250.8,196.6 254.8,196.9 258.8,197.4 262.8,197.8 266.7,198.4 270.7,199 274.7,199.6 278.7,200.2 282.7,200.9 286.7,201.6 290.7,202.3 294.6,203 298.6,203.7 302.6,204.5 306.6,205.4 310.6,206.3 314.6,207.2 318.5,207.9 322.5,208.5 326.5,209.1 330.5,209.7 334.5,210.3 338.5,210.8 342.4,211.4 346.4,212 350.4,212.6 354.4,213.2 358.4,213.8 362.4,214.4 366.4,215 370.3,215.7 374.3,216.3 378.3,216.9 382.3,217.6 386.3,218.2 390.3,218.9 394.2,219.5 398.2,220.2 402.2,220.8 406.2,221.6 410.2,222.3 414.2,223.1 418.1,223.8 422.1,224.6 426.1,225.4 430.1,226.1 434.1,226.8 438.1,227.5 442.1,228.1 446,228.6 450,229.1 454,229.5 458,229.9 462,230.3 466,230.7 469.9,231 473.9,231.3 477.9,231.6 481.9,231.9 485.9,232.1 489.9,232.2 493.8,232.4 497.8,232.4 501.8,232.4 505.8,232.4 509.8,232.4 513.8,232.4 517.8,232.3 521.7,232.3 525.7,232.1 529.7,231.8 533.7,231.4 537.7,230.9 541.7,230.5 545.6,229.9 549.6,229.3 553.6,228.5 557.6,227.7 561.6,226.8 565.6,225.8 569.6,224.7 573.5,223.5 577.5,222.3 581.5,221 585.5,219.7 589.5,218.3 593.5,216.8 597.4,215.3 601.4,213.7 605.4,212 609.4,210.2 613.4,208.3 617.4,206.4 621.3,204.7 625.3,202.9 629.3,201.1 633.3,199.4 637.3,197.8 641.3,196.2 645.3,194.8 649.2,193.4 653.2,192.1 657.2,190.9 661.2,189.7 665.2,188.7 669.2,187.6 673.1,186.7 677.1,185.8 681.1,184.9 685.1,184.1 689.1,183.3 693.1,182.5 697,181.8 701,181.1 705,180.5 709,179.8 709,188.8 705,189.3 701,189.9 697,190.6 693.1,191.3 689.1,192 685.1,192.7 681.1,193.5 677.1,194.3 673.1,195.2 669.2,196.1 665.2,197.1 661.2,198.2 657.2,199.3 653.2,200.5 649.2,201.8 645.3,203.1 641.3,204.5 637.3,206 633.3,207.7 629.3,209.4 625.3,211.1 621.3,212.9 617.4,214.7 613.4,216.5 609.4,218.4 605.4,220.2 601.4,221.9 597.4,223.5 593.5,225 589.5,226.4 585.5,227.7 581.5,229 577.5,230.3 573.5,231.5 569.6,232.6 565.6,233.7 561.6,234.7 557.6,235.5 553.6,236.3 549.6,237.1 545.6,237.8 541.7,238.3 537.7,238.7 533.7,239.2 529.7,239.5 525.7,239.8 521.7,240 517.8,240 513.8,240 509.8,240 505.8,240 501.8,240 497.8,240 493.8,239.9 489.9,239.8 485.9,239.7 481.9,239.5 477.9,239.2 473.9,239 469.9,238.7 466,238.4 462,238 458,237.7 454,237.4 450,237 446,236.6 442.1,236.1 438.1,235.6 434.1,234.9 430.1,234.2 426.1,233.5 422.1,232.8 418.1,232 414.2,231.3 410.2,230.5 406.2,229.8 402.2,229.1 398.2,228.5 394.2,227.8 390.3,227.2 386.3,226.6 382.3,226 378.3,225.3 374.3,224.7 370.3,224.1 366.4,223.5 362.4,222.9 358.4,222.3 354.4,221.7 350.4,221.1 346.4,220.5 342.4,219.9 338.5,219.4 334.5,218.8 330.5,218.3 326.5,217.7 322.5,217.1 318.5,216.4 314.6,215.7 310.6,214.9 306.6,213.9 302.6,213 298.6,212.2 294.6,211.5 290.7,210.8 286.7,210.1 282.7,209.4 278.7,208.7 274.7,208 270.7,207.4 266.7,206.8 262.8,206.3 258.8,205.8 254.8,205.4 250.8,205.1 246.8,204.8 242.8,204.5 238.9,204.2 234.9,203.9 230.9,203.6 226.9,203.4 222.9,203.2 218.9,203 214.9,202.8 211,202.7 207,202.6 203,202.5 199,202.5 195,202.5 191,202.5 187.1,202.5 183.1,202.5 179.1,202.5 175.1,202.5 171.1,202.6 167.1,202.8 163.2,203 159.2,203.2 155.2,203.4 151.2,203.7 147.2,204 143.2,204.4 139.2,204.7 135.3,205.1 131.3,205.4 127.3,205.8 123.3,206.2 119.3,206.6 115.3,207 111.4,207.5 107.4,208.1 103.4,208.7 99.4,209.3 95.4,210 91.4,210.7 87.5,211.4 83.5,212.2 79.5,213 75.5,213.8" fill="#fdea8c"/>
<polyline points="75.5,179.1 79.5,178.3 83.5,177.4 87.5,176.6 91.4,175.9 95.4,175.2 99.4,174.5 103.4,173.8 107.4,173.2 111.4,172.6 115.3,172.1 119.3,171.6 123.3,171.2 127.3,170.8 131.3,170.4 135.3,170 139.2,169.7 143.2,169.4 147.2,169.1 151.2,168.8 155.2,168.6 159.2,168.4 163.2,168.2 167.1,168 171.1,167.9 175.1,167.8 179.1,167.8 183.1,167.8 187.1,167.8 191,167.8 195,167.8 199,167.9 203,167.9 207,168 211,168.1 214.9,168.2 218.9,168.4 222.9,168.7 226.9,169 230.9,169.3 234.9,169.6 238.9,170 242.8,170.3 246.8,170.7 250.8,171.1 254.8,171.5 258.8,171.9 262.8,172.5 266.7,173 270.7,173.6 274.7,174.2 278.7,174.8 282.7,175.5 286.7,176.2 290.7,176.8 294.6,177.5 298.6,178.3 302.6,179 306.6,179.8 310.6,180.7 314.6,181.5 318.5,182.2 322.5,182.8 326.5,183.5 330.5,184.1 334.5,184.7 338.5,185.2 342.4,185.8 346.4,186.4 350.4,187.1 354.4,187.7 358.4,188.4 362.4,189 366.4,189.7 370.3,190.4 374.3,191.1 378.3,191.8 382.3,192.5 386.3,193.2 390.3,193.9 394.2,194.6 398.2,195.3 402.2,196 406.2,196.8 410.2,197.6 414.2,198.4 418.1,199.3 422.1,200.1 426.1,200.9 430.1,201.8 434.1,202.6 438.1,203.3 442.1,204 446,204.7 450,205.3 454,205.8 458,206.4 462,206.9 466,207.5 469.9,208 473.9,208.4 477.9,208.8 481.9,209.1 485.9,209.3 489.9,209.5 493.8,209.7 497.8,209.7 501.8,209.7 505.8,209.7 509.8,209.6 513.8,209.5 517.8,209.3 521.7,209.2 525.7,208.9 529.7,208.5 533.7,208 537.7,207.5 541.7,207 545.6,206.5 549.6,205.8 553.6,205.1 557.6,204.3 561.6,203.4 565.6,202.3 569.6,201.1 573.5,199.7 577.5,198.4 581.5,197 585.5,195.5 589.5,194 593.5,192.4 597.4,190.8 601.4,189.1 605.4,187.4 609.4,185.5 613.4,183.6 617.4,181.7 621.3,179.9 625.3,178.1 629.3,176.3 633.3,174.6 637.3,173 641.3,171.4 645.3,169.9 649.2,168.4 653.2,167 657.2,165.6 661.2,164.4 665.2,163.2 669.2,162.1 673.1,161.1 677.1,160.1 681.1,159.1 685.1,158.2 689.1,157.3 693.1,156.4 697,155.5 701,154.7 705,153.9 709,153.1" fill="none" stroke="#eaa07c" stroke-width="0.8" />
<polygon points="75.5,412 79.5,411.2 83.5,410.4 87.5,409.6 91.4,408.8 95.4,408.1 99.4,407.4 103.4,406.7 107.4,406.1 111.4,405.5 115.3,404.9 119.3,404.4 123.3,403.9 127.3,403.5 131.3,403.1 135.3,402.7 139.2,402.3 143.2,401.9 147.2,401.5 151.2,401.1 155.2,400.8 159.2,400.5 163.2,400.2 167.1,400 171.1,399.8 175.1,399.6 179.1,399.5 183.1,399.4 187.1,399.4 191,399.3 195,399.2 199,399.2 203,399.1 207,399.1 211,399 214.9,399 218.9,399 222.9,399 226.9,399.1 230.9,399.2 234.9,399.4 238.9,399.7 242.8,399.9 246.8,400.2 250.8,400.5 254.8,400.8 258.8,401.2 262.8,401.5 266.7,401.9 270.7,402.3 274.7,402.8 278.7,403.3 282.7,403.8 286.7,404.3 290.7,404.9 294.6,405.5 298.6,406.1 302.6,406.6 306.6,407.3 310.6,407.9 314.6,408.6 318.5,409.1 322.5,409.6 326.5,410.1 330.5,410.5 334.5,411 338.5,411.4 342.4,411.8 346.4,412.2 350.4,412.5 354.4,412.9 358.4,413.3 362.4,413.6 366.4,414 370.3,414.4 374.3,414.7 378.3,415 382.3,415.3 386.3,415.6 390.3,415.8 394.2,416 398.2,416.2 402.2,416.3 406.2,416.4 410.2,416.5 414.2,416.6 418.1,416.7 422.1,416.8 426.1,416.9 430.1,416.9 434.1,417 438.1,417 442.1,417 446,417 450,416.9 454,416.9 458,416.8 462,416.7 466,416.6 469.9,416.5 473.9,416.4 477.9,416.3 481.9,416.2 485.9,416.1 489.9,415.9 493.8,415.8 497.8,415.6 501.8,415.4 505.8,415.3 509.8,415.1 513.8,414.8 517.8,414.6 521.7,414.4 525.7,414.1 529.7,413.9 533.7,413.6 537.7,413.3 541.7,412.9 545.6,412.6 549.6,412.2 553.6,411.9 557.6,411.5 561.6,411.1 565.6,410.7 569.6,410.2 573.5,409.8 577.5,409.3 581.5,408.8 585.5,408.3 589.5,407.7 593.5,407.2 597.4,406.6 601.4,406 605.4,405.4 609.4,404.8 613.4,404.1 617.4,403.4 621.3,402.6 625.3,401.9 629.3,401.2 633.3,400.5 637.3,399.9 641.3,399.3 645.3,398.8 649.2,398.2 653.2,397.7 657.2,397.2 661.2,396.7 665.2,396.2 669.2,395.8 673.1,395.3 677.1,394.8 681.1,394.4 685.1,393.9 689.1,393.4 693.1,393 697,392.6 701,392.1 705,391.7 709,391.2 709,400.6 705,401 701,401.5 697,401.9 693.1,402.3 689.1,402.7 685.1,403.1 681.1,403.6 677.1,404 673.1,404.5 669.2,404.9 665.2,405.4 661.2,405.8 657.2,406.3 653.2,406.7 649.2,407.2 645.3,407.7 641.3,408.2 637.3,408.8 633.3,409.4 629.3,410 625.3,410.7 621.3,411.4 617.4,412.1 613.4,412.7 609.4,413.4 605.4,414 601.4,414.6 597.4,415.1 593.5,415.7 589.5,416.2 585.5,416.7 581.5,417.2 577.5,417.7 573.5,418.1 569.6,418.6 565.6,419 561.6,419.4 557.6,419.8 553.6,420.2 549.6,420.5 545.6,420.9 541.7,421.2 537.7,421.6 533.7,421.9 529.7,422.2 525.7,422.5 521.7,422.7 517.8,423 513.8,423.2 509.8,423.4 505.8,423.7 501.8,423.9 497.8,424.1 493.8,424.3 489.9,424.4 485.9,424.6 481.9,424.7 477.9,424.9 473.9,425 469.9,425.1 466,425.3 462,425.4 458,425.5 454,425.6 450,425.7 446,425.7 442.1,425.8 438.1,425.8 434.1,425.8 430.1,425.8 426.1,425.7 422.1,425.7 418.1,425.6 414.2,425.5 410.2,425.4 406.2,425.3 402.2,425.2 398.2,425 394.2,424.9 390.3,424.7 386.3,424.5 382.3,424.2 378.3,423.9 374.3,423.6 370.3,423.3 366.4,422.9 362.4,422.6 358.4,422.2 354.4,421.8 350.4,421.5 346.4,421.1 342.4,420.7 338.5,420.3 334.5,419.9 330.5,419.5 326.5,419 322.5,418.6 318.5,418.1 314.6,417.6 310.6,417 306.6,416.3 302.6,415.7 298.6,415.2 294.6,414.6 290.7,414 286.7,413.5 282.7,412.9 278.7,412.4 274.7,411.9 270.7,411.5 266.7,411.1 262.8,410.7 258.8,410.4 254.8,410.1 250.8,409.8 246.8,409.5 242.8,409.2 238.9,408.9 234.9,408.7 230.9,408.5 226.9,408.4 222.9,408.3 218.9,408.3 214.9,408.3 211,408.3 207,408.3 203,408.4 199,408.4 195,408.5 191,408.6 187.1,408.7 183.1,408.7 179.1,408.8 175.1,408.9 171.1,409.1 167.1,409.3 163.2,409.5 159.2,409.8 155.2,410.1 151.2,410.5 147.2,410.8 143.2,411.2 139.2,411.6 135.3,412 131.3,412.4 127.3,412.8 123.3,413.2 119.3,413.7 115.3,414.2 111.4,414.8 107.4,415.4 103.4,416 99.4,416.7 95.4,417.3 91.4,418.1 87.5,418.8 83.5,419.6 79.5,420.4 75.5,421.2" fill="#fdea8c"/>
<polygon points="75.5,420.3 79.5,419.5 83.5,418.7 87.5,417.9 91.4,417.2 95.4,416.4 99.4,415.8 103.4,415.1 107.4,414.5 111.4,413.9 115.3,413.3 119.3,412.8 123.3,412.3 127.3,411.9 131.3,411.5 135.3,411.1 139.2,410.7 143.2,410.3 147.2,409.9 151.2,409.6 155.2,409.2 159.2,408.9 163.2,408.6 167.1,408.4 171.1,408.2 175.1,408 179.1,407.9 183.1,407.8 187.1,407.8 191,407.7 195,407.6 199,407.5 203,407.5 207,407.4 211,407.4 214.9,407.4 218.9,407.4 222.9,407.4 226.9,407.5 230.9,407.6 234.9,407.8 238.9,408 242.8,408.3 246.8,408.6 250.8,408.9 254.8,409.2 258.8,409.5 262.8,409.8 266.7,410.2 270.7,410.6 274.7,411 278.7,411.5 282.7,412 286.7,412.6 290.7,413.1 294.6,413.7 298.6,414.3 302.6,414.8 306.6,415.4 310.6,416.1 314.6,416.7 318.5,417.2 322.5,417.7 326.5,418.1 330.5,418.6 334.5,419 338.5,419.4 342.4,419.8 346.4,420.2 350.4,420.6 354.4,420.9 358.4,421.3 362.4,421.7 366.4,422 370.3,422.4 374.3,422.7 378.3,423 382.3,423.3 386.3,423.6 390.3,423.8 394.2,424 398.2,424.1 402.2,424.3 406.2,424.4 410.2,424.5 414.2,424.6 418.1,424.7 422.1,424.8 426.1,424.8 430.1,424.9 434.1,424.9 438.1,424.9 442.1,424.9 446,424.8 450,424.8 454,424.7 458,424.6 462,424.5 466,424.4 469.9,424.2 473.9,424.1 477.9,424 481.9,423.8 485.9,423.7 489.9,423.5 493.8,423.4 497.8,423.2 501.8,423 505.8,422.8 509.8,422.5 513.8,422.3 517.8,422.1 521.7,421.8 525.7,421.6 529.7,421.3 533.7,421 537.7,420.7 541.7,420.3 545.6,420 549.6,419.6 553.6,419.3 557.6,418.9 561.6,418.5 565.6,418.1 569.6,417.7 573.5,417.2 577.5,416.8 581.5,416.3 585.5,415.8 589.5,415.3 593.5,414.8 597.4,414.2 601.4,413.7 605.4,413.1 609.4,412.5 613.4,411.8 617.4,411.2 621.3,410.5 625.3,409.8 629.3,409.1 633.3,408.5 637.3,407.9 641.3,407.3 645.3,406.8 649.2,406.3 653.2,405.8 657.2,405.4 661.2,404.9 665.2,404.5 669.2,404 673.1,403.6 677.1,403.1 681.1,402.7 685.1,402.2 689.1,401.8 693.1,401.4 697,401 701,400.6 705,400.1 709,399.7 709,409.1 705,409.5 701,409.9 697,410.3 693.1,410.7 689.1,411.1 685.1,411.5 681.1,411.9 677.1,412.3 673.1,412.7 669.2,413.1 665.2,413.6 661.2,414 657.2,414.4 653.2,414.8 649.2,415.3 645.3,415.8 641.3,416.3 637.3,416.8 633.3,417.3 629.3,417.9 625.3,418.6 621.3,419.2 617.4,419.9 613.4,420.5 609.4,421.1 605.4,421.7 601.4,422.3 597.4,422.8 593.5,423.3 589.5,423.8 585.5,424.2 581.5,424.7 577.5,425.2 573.5,425.6 569.6,426 565.6,426.4 561.6,426.8 557.6,427.2 553.6,427.6 549.6,427.9 545.6,428.3 541.7,428.6 537.7,429 533.7,429.3 529.7,429.6 525.7,429.9 521.7,430.2 517.8,430.4 513.8,430.7 509.8,430.9 505.8,431.2 501.8,431.4 497.8,431.6 493.8,431.8 489.9,432 485.9,432.2 481.9,432.4 477.9,432.5 473.9,432.7 469.9,432.8 466,433 462,433.1 458,433.3 454,433.4 450,433.5 446,433.6 442.1,433.7 438.1,433.7 434.1,433.7 430.1,433.7 426.1,433.6 422.1,433.6 418.1,433.5 414.2,433.4 410.2,433.3 406.2,433.2 402.2,433.1 398.2,433 394.2,432.8 390.3,432.7 386.3,432.4 382.3,432.2 378.3,431.9 374.3,431.6 370.3,431.3 366.4,430.9 362.4,430.6 358.4,430.2 354.4,429.9 350.4,429.5 346.4,429.2 342.4,428.8 338.5,428.4 334.5,428 330.5,427.6 326.5,427.1 322.5,426.6 318.5,426.2 314.6,425.7 310.6,425.1 306.6,424.5 302.6,423.9 298.6,423.3 294.6,422.8 290.7,422.3 286.7,421.7 282.7,421.2 278.7,420.7 274.7,420.2 270.7,419.8 266.7,419.3 262.8,419 258.8,418.7 254.8,418.4 250.8,418.1 246.8,417.8 242.8,417.5 238.9,417.3 234.9,417 230.9,416.9 226.9,416.7 222.9,416.7 218.9,416.6 214.9,416.7 211,416.7 207,416.7 203,416.8 199,416.8 195,416.9 191,417 187.1,417 183.1,417.1 179.1,417.2 175.1,417.3 171.1,417.5 167.1,417.7 163.2,418 159.2,418.2 155.2,418.5 151.2,418.9 147.2,419.2 143.2,419.6 139.2,420 135.3,420.4 131.3,420.8 127.3,421.2 123.3,421.6 119.3,422.1 115.3,422.6 111.4,423.2 107.4,423.7 103.4,424.4 99.4,425 95.4,425.7 91.4,426.4 87.5,427.2 83.5,427.9 79.5,428.7 75.5,429.5" fill="#fde48f"/>
<polygon points="75.5,428.6 79.5,427.8 83.5,427 87.5,426.3 91.4,425.5 95.4,424.8 99.4,424.1 103.4,423.5 107.4,422.8 111.4,422.3 115.3,421.7 119.3,421.2 123.3,420.7 127.3,420.3 131.3,419.9 135.3,419.5 139.2,419.1 143.2,418.7 147.2,418.3 151.2,418 155.2,417.6 159.2,417.3 163.2,417.1 167.1,416.8 171.1,416.6 175.1,416.4 179.1,416.3 183.1,416.2 187.1,416.1 191,416.1 195,416 199,415.9 203,415.9 207,415.8 211,415.8 214.9,415.8 218.9,415.7 222.9,415.8 226.9,415.8 230.9,416 234.9,416.1 238.9,416.4 242.8,416.6 246.8,416.9 250.8,417.2 254.8,417.5 258.8,417.8 262.8,418.1 266.7,418.4 270.7,418.9 274.7,419.3 278.7,419.8 282.7,420.3 286.7,420.8 290.7,421.4 294.6,421.9 298.6,422.4 302.6,423 306.6,423.6 310.6,424.2 314.6,424.8 318.5,425.3 322.5,425.7 326.5,426.2 330.5,426.7 334.5,427.1 338.5,427.5 342.4,427.9 346.4,428.3 350.4,428.6 354.4,429 358.4,429.3 362.4,429.7 366.4,430 370.3,430.4 374.3,430.7 378.3,431 382.3,431.3 386.3,431.5 390.3,431.8 394.2,431.9 398.2,432.1 402.2,432.2 406.2,432.3 410.2,432.4 414.2,432.5 418.1,432.6 422.1,432.7 426.1,432.7 430.1,432.8 434.1,432.8 438.1,432.8 442.1,432.8 446,432.7 450,432.6 454,432.5 458,432.4 462,432.2 466,432.1 469.9,431.9 473.9,431.8 477.9,431.6 481.9,431.5 485.9,431.3 489.9,431.1 493.8,430.9 497.8,430.7 501.8,430.5 505.8,430.3 509.8,430 513.8,429.8 517.8,429.5 521.7,429.3 525.7,429 529.7,428.7 533.7,428.4 537.7,428.1 541.7,427.7 545.6,427.4 549.6,427 553.6,426.7 557.6,426.3 561.6,425.9 565.6,425.5 569.6,425.1 573.5,424.7 577.5,424.3 581.5,423.8 585.5,423.3 589.5,422.9 593.5,422.4 597.4,421.9 601.4,421.4 605.4,420.8 609.4,420.2 613.4,419.6 617.4,419 621.3,418.3 625.3,417.7 629.3,417 633.3,416.4 637.3,415.9 641.3,415.4 645.3,414.9 649.2,414.4 653.2,413.9 657.2,413.5 661.2,413.1 665.2,412.7 669.2,412.2 673.1,411.8 677.1,411.4 681.1,411 685.1,410.6 689.1,410.2 693.1,409.8 697,409.4 701,409 705,408.6 709,408.2 709,418.3 705,418.7 701,419 697,419.4 693.1,419.8 689.1,420.2 685.1,420.5 681.1,420.9 677.1,421.3 673.1,421.7 669.2,422.1 665.2,422.4 661.2,422.8 657.2,423.2 653.2,423.6 649.2,424.1 645.3,424.5 641.3,424.9 637.3,425.4 633.3,426 629.3,426.5 625.3,427.1 621.3,427.7 617.4,428.3 613.4,428.9 609.4,429.5 605.4,430 601.4,430.6 597.4,431 593.5,431.5 589.5,432 585.5,432.4 581.5,432.9 577.5,433.3 573.5,433.7 569.6,434.1 565.6,434.5 561.6,434.9 557.6,435.2 553.6,435.6 549.6,435.9 545.6,436.3 541.7,436.6 537.7,437 533.7,437.3 529.7,437.6 525.7,437.9 521.7,438.2 517.8,438.5 513.8,438.8 509.8,439 505.8,439.3 501.8,439.6 497.8,439.8 493.8,440 489.9,440.3 485.9,440.5 481.9,440.7 477.9,440.8 473.9,441 469.9,441.2 466,441.4 462,441.6 458,441.7 454,441.9 450,442 446,442.1 442.1,442.2 438.1,442.3 434.1,442.3 430.1,442.3 426.1,442.2 422.1,442.2 418.1,442.1 414.2,442 410.2,441.9 406.2,441.8 402.2,441.7 398.2,441.6 394.2,441.5 390.3,441.3 386.3,441.1 382.3,440.8 378.3,440.5 374.3,440.2 370.3,439.9 366.4,439.6 362.4,439.3 358.4,438.9 354.4,438.6 350.4,438.2 346.4,437.9 342.4,437.5 338.5,437.1 334.5,436.7 330.5,436.3 326.5,435.9 322.5,435.4 318.5,434.9 314.6,434.4 310.6,433.9 306.6,433.3 302.6,432.8 298.6,432.2 294.6,431.7 290.7,431.2 286.7,430.7 282.7,430.1 278.7,429.6 274.7,429.2 270.7,428.7 266.7,428.3 262.8,428 258.8,427.7 254.8,427.4 250.8,427.1 246.8,426.8 242.8,426.6 238.9,426.3 234.9,426.1 230.9,425.9 226.9,425.8 222.9,425.7 218.9,425.7 214.9,425.7 211,425.7 207,425.8 203,425.8 199,425.9 195,426 191,426.1 187.1,426.1 183.1,426.2 179.1,426.3 175.1,426.5 171.1,426.6 167.1,426.8 163.2,427.1 159.2,427.3 155.2,427.6 151.2,428 147.2,428.3 143.2,428.7 139.2,429.1 135.3,429.5 131.3,429.9 127.3,430.3 123.3,430.7 119.3,431.2 115.3,431.7 111.4,432.2 107.4,432.8 103.4,433.4 99.4,434.1 95.4,434.8 91.4,435.5 87.5,436.2 83.5,437 79.5,437.7 75.5,438.5" fill="#fddb96"/>
<polygon points="75.5,437.6 79.5,436.8 83.5,436.1 87.5,435.3 91.4,434.6 95.4,433.9 99.4,433.2 103.4,432.5 107.4,431.9 111.4,431.3 115.3,430.8 119.3,430.3 123.3,429.8 127.3,429.4 131.3,429 135.3,428.6 139.2,428.2 143.2,427.8 147.2,427.4 151.2,427.1 155.2,426.7 159.2,426.4 163.2,426.2 167.1,425.9 171.1,425.7 175.1,425.6 179.1,425.4 183.1,425.3 187.1,425.2 191,425.2 195,425.1 199,425 203,424.9 207,424.9 211,424.8 214.9,424.8 218.9,424.8 222.9,424.8 226.9,424.9 230.9,425 234.9,425.2 238.9,425.4 242.8,425.7 246.8,425.9 250.8,426.2 254.8,426.5 258.8,426.8 262.8,427.1 266.7,427.4 270.7,427.8 274.7,428.3 278.7,428.7 282.7,429.2 286.7,429.8 290.7,430.3 294.6,430.8 298.6,431.3 302.6,431.9 306.6,432.4 310.6,433 314.6,433.5 318.5,434 322.5,434.5 326.5,435 330.5,435.4 334.5,435.8 338.5,436.2 342.4,436.6 346.4,437 350.4,437.3 354.4,437.7 358.4,438 362.4,438.4 366.4,438.7 370.3,439 374.3,439.3 378.3,439.6 382.3,439.9 386.3,440.2 390.3,440.4 394.2,440.6 398.2,440.7 402.2,440.8 406.2,440.9 410.2,441 414.2,441.1 418.1,441.2 422.1,441.3 426.1,441.3 430.1,441.4 434.1,441.4 438.1,441.4 442.1,441.3 446,441.2 450,441.1 454,441 458,440.8 462,440.7 466,440.5 469.9,440.3 473.9,440.1 477.9,439.9 481.9,439.8 485.9,439.6 489.9,439.4 493.8,439.1 497.8,438.9 501.8,438.7 505.8,438.4 509.8,438.1 513.8,437.9 517.8,437.6 521.7,437.3 525.7,437 529.7,436.7 533.7,436.4 537.7,436.1 541.7,435.7 545.6,435.4 549.6,435 553.6,434.7 557.6,434.3 561.6,434 565.6,433.6 569.6,433.2 573.5,432.8 577.5,432.4 581.5,432 585.5,431.5 589.5,431.1 593.5,430.6 597.4,430.1 601.4,429.7 605.4,429.1 609.4,428.6 613.4,428 617.4,427.4 621.3,426.8 625.3,426.2 629.3,425.6 633.3,425.1 637.3,424.5 641.3,424 645.3,423.6 649.2,423.2 653.2,422.7 657.2,422.3 661.2,421.9 665.2,421.5 669.2,421.2 673.1,420.8 677.1,420.4 681.1,420 685.1,419.6 689.1,419.3 693.1,418.9 697,418.5 701,418.1 705,417.8 709,417.4 709,427.5 705,427.9 701,428.2 697,428.5 693.1,428.9 689.1,429.2 685.1,429.6 681.1,429.9 677.1,430.3 673.1,430.6 669.2,431 665.2,431.3 661.2,431.7 657.2,432.1 653.2,432.4 649.2,432.8 645.3,433.2 641.3,433.6 637.3,434.1 633.3,434.6 629.3,435.1 625.3,435.6 621.3,436.2 617.4,436.8 613.4,437.3 609.4,437.9 605.4,438.4 601.4,438.9 597.4,439.3 593.5,439.8 589.5,440.2 585.5,440.6 581.5,441 577.5,441.4 573.5,441.8 569.6,442.2 565.6,442.5 561.6,442.9 557.6,443.2 553.6,443.6 549.6,444 545.6,444.3 541.7,444.7 537.7,445 533.7,445.3 529.7,445.7 525.7,446 521.7,446.3 517.8,446.6 513.8,446.9 509.8,447.1 505.8,447.4 501.8,447.7 497.8,448 493.8,448.2 489.9,448.5 485.9,448.7 481.9,448.9 477.9,449.1 473.9,449.3 469.9,449.5 466,449.8 462,450 458,450.2 454,450.3 450,450.5 446,450.6 442.1,450.8 438.1,450.8 434.1,450.9 430.1,450.9 426.1,450.8 422.1,450.8 418.1,450.7 414.2,450.6 410.2,450.5 406.2,450.4 402.2,450.3 398.2,450.2 394.2,450.1 390.3,449.9 386.3,449.7 382.3,449.4 378.3,449.2 374.3,448.9 370.3,448.6 366.4,448.3 362.4,447.9 358.4,447.6 354.4,447.3 350.4,446.9 346.4,446.6 342.4,446.2 338.5,445.9 334.5,445.5 330.5,445 326.5,444.6 322.5,444.2 318.5,443.7 314.6,443.2 310.6,442.7 306.6,442.2 302.6,441.6 298.6,441.1 294.6,440.6 290.7,440.1 286.7,439.6 282.7,439.1 278.7,438.6 274.7,438.1 270.7,437.7 266.7,437.3 262.8,437 258.8,436.7 254.8,436.4 250.8,436.1 246.8,435.9 242.8,435.6 238.9,435.4 234.9,435.2 230.9,435 226.9,434.9 222.9,434.8 218.9,434.8 214.9,434.8 211,434.8 207,434.9 203,434.9 199,435 195,435.1 191,435.1 187.1,435.2 183.1,435.3 179.1,435.4 175.1,435.6 171.1,435.7 167.1,435.9 163.2,436.2 159.2,436.5 155.2,436.8 151.2,437.1 147.2,437.4 143.2,437.8 139.2,438.2 135.3,438.6 131.3,439 127.3,439.4 123.3,439.8 119.3,440.3 115.3,440.8 111.4,441.3 107.4,441.9 103.4,442.5 99.4,443.1 95.4,443.8 91.4,444.5 87.5,445.2 83.5,446 79.5,446.7 75.5,447.5" fill="#fdd09a"/>
<polygon points="75.5,446.6 79.5,445.8 83.5,445.1 87.5,444.3 91.4,443.6 95.4,442.9 99.4,442.2 103.4,441.6 107.4,441 111.4,440.4 115.3,439.9 119.3,439.4 123.3,438.9 127.3,438.5 131.3,438.1 135.3,437.7 139.2,437.3 143.2,436.9 147.2,436.5 151.2,436.2 155.2,435.9 159.2,435.6 163.2,435.3 167.1,435 171.1,434.8 175.1,434.7 179.1,434.5 183.1,434.4 187.1,434.3 191,434.2 195,434.2 199,434.1 203,434 207,434 211,433.9 214.9,433.9 218.9,433.9 222.9,433.9 226.9,434 230.9,434.1 234.9,434.3 238.9,434.5 242.8,434.7 246.8,435 250.8,435.2 254.8,435.5 258.8,435.8 262.8,436.1 266.7,436.4 270.7,436.8 274.7,437.2 278.7,437.7 282.7,438.2 286.7,438.7 290.7,439.2 294.6,439.7 298.6,440.2 302.6,440.7 306.6,441.3 310.6,441.8 314.6,442.3 318.5,442.8 322.5,443.3 326.5,443.7 330.5,444.1 334.5,444.6 338.5,445 342.4,445.3 346.4,445.7 350.4,446 354.4,446.4 358.4,446.7 362.4,447 366.4,447.4 370.3,447.7 374.3,448 378.3,448.3 382.3,448.5 386.3,448.8 390.3,449 394.2,449.2 398.2,449.3 402.2,449.4 406.2,449.5 410.2,449.6 414.2,449.7 418.1,449.8 422.1,449.9 426.1,449.9 430.1,450 434.1,450 438.1,449.9 442.1,449.9 446,449.7 450,449.6 454,449.4 458,449.3 462,449.1 466,448.9 469.9,448.6 473.9,448.4 477.9,448.2 481.9,448 485.9,447.8 489.9,447.6 493.8,447.3 497.8,447.1 501.8,446.8 505.8,446.5 509.8,446.2 513.8,446 517.8,445.7 521.7,445.4 525.7,445.1 529.7,444.8 533.7,444.4 537.7,444.1 541.7,443.8 545.6,443.4 549.6,443.1 553.6,442.7 557.6,442.3 561.6,442 565.6,441.6 569.6,441.3 573.5,440.9 577.5,440.5 581.5,440.1 585.5,439.7 589.5,439.3 593.5,438.9 597.4,438.4 601.4,438 605.4,437.5 609.4,437 613.4,436.4 617.4,435.9 621.3,435.3 625.3,434.7 629.3,434.2 633.3,433.7 637.3,433.2 641.3,432.7 645.3,432.3 649.2,431.9 653.2,431.5 657.2,431.2 661.2,430.8 665.2,430.4 669.2,430.1 673.1,429.7 677.1,429.4 681.1,429 685.1,428.7 689.1,428.3 693.1,428 697,427.6 701,427.3 705,427 709,426.6 709,435.3 705,435.6 701,435.9 697,436.3 693.1,436.6 689.1,436.9 685.1,437.2 681.1,437.6 677.1,437.9 673.1,438.2 669.2,438.5 665.2,438.9 661.2,439.2 657.2,439.5 653.2,439.9 649.2,440.2 645.3,440.6 641.3,441 637.3,441.4 633.3,441.9 629.3,442.3 625.3,442.9 621.3,443.4 617.4,443.9 613.4,444.4 609.4,444.9 605.4,445.4 601.4,445.9 597.4,446.3 593.5,446.7 589.5,447.1 585.5,447.5 581.5,447.9 577.5,448.3 573.5,448.6 569.6,449 565.6,449.3 561.6,449.7 557.6,450 553.6,450.4 549.6,450.7 545.6,451.1 541.7,451.4 537.7,451.8 533.7,452.1 529.7,452.5 525.7,452.8 521.7,453.1 517.8,453.4 513.8,453.7 509.8,454 505.8,454.3 501.8,454.6 497.8,454.9 493.8,455.2 489.9,455.4 485.9,455.7 481.9,455.9 477.9,456.2 473.9,456.4 469.9,456.6 466,456.9 462,457.1 458,457.3 454,457.5 450,457.7 446,457.9 442.1,458 438.1,458.1 434.1,458.1 430.1,458.1 426.1,458.1 422.1,458.1 418.1,458 414.2,457.9 410.2,457.8 406.2,457.7 402.2,457.6 398.2,457.5 394.2,457.4 390.3,457.2 386.3,457 382.3,456.7 378.3,456.5 374.3,456.2 370.3,455.9 366.4,455.6 362.4,455.3 358.4,455 354.4,454.6 350.4,454.3 346.4,454 342.4,453.6 338.5,453.2 334.5,452.8 330.5,452.4 326.5,452 322.5,451.6 318.5,451.1 314.6,450.7 310.6,450.2 306.6,449.6 302.6,449.1 298.6,448.6 294.6,448.1 290.7,447.6 286.7,447.1 282.7,446.6 278.7,446.2 274.7,445.7 270.7,445.3 266.7,444.9 262.8,444.6 258.8,444.3 254.8,444 250.8,443.8 246.8,443.5 242.8,443.2 238.9,443 234.9,442.8 230.9,442.7 226.9,442.5 222.9,442.5 218.9,442.4 214.9,442.5 211,442.5 207,442.5 203,442.6 199,442.7 195,442.7 191,442.8 187.1,442.9 183.1,443 179.1,443.1 175.1,443.3 171.1,443.4 167.1,443.6 163.2,443.9 159.2,444.2 155.2,444.5 151.2,444.8 147.2,445.1 143.2,445.5 139.2,445.9 135.3,446.3 131.3,446.7 127.3,447.1 123.3,447.5 119.3,448 115.3,448.5 111.4,449 107.4,449.6 103.4,450.2 99.4,450.8 95.4,451.5 91.4,452.2 87.5,452.9 83.5,453.6 79.5,454.4 75.5,455.1" fill="#fdc39a"/>
<polygon points="75.5,454.2 79.5,453.5 83.5,452.7 87.5,452 91.4,451.3 95.4,450.6 99.4,449.9 103.4,449.3 107.4,448.7 111.4,448.1 115.3,447.6 119.3,447.1 123.3,446.6 127.3,446.2 131.3,445.8 135.3,445.4 139.2,445 143.2,444.6 147.2,444.2 151.2,443.9 155.2,443.6 159.2,443.3 163.2,443 167.1,442.7 171.1,442.5 175.1,442.4 179.1,442.2 183.1,442.1 187.1,442 191,441.9 195,441.8 199,441.8 203,441.7 207,441.6 211,441.6 214.9,441.6 218.9,441.5 222.9,441.6 226.9,441.6 230.9,441.8 234.9,441.9 238.9,442.1 242.8,442.3 246.8,442.6 250.8,442.9 254.8,443.1 258.8,443.4 262.8,443.7 266.7,444 270.7,444.4 274.7,444.8 278.7,445.3 282.7,445.7 286.7,446.2 290.7,446.7 294.6,447.2 298.6,447.7 302.6,448.2 306.6,448.7 310.6,449.3 314.6,449.8 318.5,450.2 322.5,450.7 326.5,451.1 330.5,451.5 334.5,451.9 338.5,452.3 342.4,452.7 346.4,453.1 350.4,453.4 354.4,453.7 358.4,454.1 362.4,454.4 366.4,454.7 370.3,455 374.3,455.3 378.3,455.6 382.3,455.8 386.3,456.1 390.3,456.3 394.2,456.5 398.2,456.6 402.2,456.7 406.2,456.8 410.2,456.9 414.2,457 418.1,457.1 422.1,457.2 426.1,457.2 430.1,457.2 434.1,457.2 438.1,457.2 442.1,457.1 446,457 450,456.8 454,456.6 458,456.4 462,456.2 466,456 469.9,455.7 473.9,455.5 477.9,455.3 481.9,455 485.9,454.8 489.9,454.5 493.8,454.3 497.8,454 501.8,453.7 505.8,453.4 509.8,453.1 513.8,452.8 517.8,452.5 521.7,452.2 525.7,451.9 529.7,451.6 533.7,451.2 537.7,450.9 541.7,450.5 545.6,450.2 549.6,449.8 553.6,449.5 557.6,449.1 561.6,448.8 565.6,448.4 569.6,448.1 573.5,447.7 577.5,447.4 581.5,447 585.5,446.6 589.5,446.2 593.5,445.8 597.4,445.4 601.4,445 605.4,444.5 609.4,444 613.4,443.5 617.4,443 621.3,442.5 625.3,442 629.3,441.4 633.3,441 637.3,440.5 641.3,440.1 645.3,439.7 649.2,439.3 653.2,439 657.2,438.6 661.2,438.3 665.2,438 669.2,437.6 673.1,437.3 677.1,437 681.1,436.7 685.1,436.3 689.1,436 693.1,435.7 697,435.4 701,435 705,434.7 709,434.4 709,443.8 705,444.1 701,444.4 697,444.7 693.1,445 689.1,445.3 685.1,445.6 681.1,445.9 677.1,446.2 673.1,446.5 669.2,446.8 665.2,447.1 661.2,447.4 657.2,447.7 653.2,448 649.2,448.3 645.3,448.7 641.3,449 637.3,449.4 633.3,449.8 629.3,450.3 625.3,450.7 621.3,451.2 617.4,451.7 613.4,452.2 609.4,452.7 605.4,453.1 601.4,453.5 597.4,453.9 593.5,454.3 589.5,454.7 585.5,455 581.5,455.4 577.5,455.7 573.5,456.1 569.6,456.4 565.6,456.8 561.6,457.1 557.6,457.4 553.6,457.8 549.6,458.1 545.6,458.5 541.7,458.8 537.7,459.2 533.7,459.5 529.7,459.9 525.7,460.2 521.7,460.5 517.8,460.8 513.8,461.2 509.8,461.5 505.8,461.8 501.8,462.1 497.8,462.4 493.8,462.7 489.9,463 485.9,463.3 481.9,463.6 477.9,463.8 473.9,464.1 469.9,464.3 466,464.6 462,464.8 458,465.1 454,465.3 450,465.5 446,465.7 442.1,465.9 438.1,466 434.1,466 430.1,466.1 426.1,466 422.1,466 418.1,465.9 414.2,465.9 410.2,465.8 406.2,465.7 402.2,465.6 398.2,465.5 394.2,465.3 390.3,465.2 386.3,464.9 382.3,464.7 378.3,464.5 374.3,464.2 370.3,463.9 366.4,463.6 362.4,463.3 358.4,463 354.4,462.7 350.4,462.3 346.4,462 342.4,461.7 338.5,461.3 334.5,460.9 330.5,460.5 326.5,460.1 322.5,459.6 318.5,459.2 314.6,458.8 310.6,458.3 306.6,457.8 302.6,457.3 298.6,456.8 294.6,456.3 290.7,455.9 286.7,455.4 282.7,454.9 278.7,454.4 274.7,454 270.7,453.6 266.7,453.2 262.8,452.9 258.8,452.6 254.8,452.4 250.8,452.1 246.8,451.8 242.8,451.6 238.9,451.4 234.9,451.2 230.9,451 226.9,450.9 222.9,450.8 218.9,450.8 214.9,450.8 211,450.9 207,450.9 203,451 199,451 195,451.1 191,451.2 187.1,451.3 183.1,451.4 179.1,451.5 175.1,451.7 171.1,451.8 167.1,452.1 163.2,452.3 159.2,452.6 155.2,452.9 151.2,453.2 147.2,453.6 143.2,453.9 139.2,454.3 135.3,454.7 131.3,455.1 127.3,455.5 123.3,455.9 119.3,456.4 115.3,456.9 111.4,457.4 107.4,458 103.4,458.6 99.4,459.2 95.4,459.8 91.4,460.5 87.5,461.2 83.5,461.9 79.5,462.7 75.5,463.5" fill="#fdb898"/>
<polygon points="75.5,462.6 79.5,461.8 83.5,461 87.5,460.3 91.4,459.6 95.4,458.9 99.4,458.3 103.4,457.7 107.4,457.1 111.4,456.5 115.3,456 119.3,455.5 123.3,455 127.3,454.6 131.3,454.2 135.3,453.8 139.2,453.4 143.2,453 147.2,452.7 151.2,452.3 155.2,452 159.2,451.7 163.2,451.4 167.1,451.2 171.1,450.9 175.1,450.8 179.1,450.6 183.1,450.5 187.1,450.4 191,450.3 195,450.2 199,450.1 203,450.1 207,450 211,450 214.9,449.9 218.9,449.9 222.9,449.9 226.9,450 230.9,450.1 234.9,450.3 238.9,450.5 242.8,450.7 246.8,450.9 250.8,451.2 254.8,451.5 258.8,451.7 262.8,452 266.7,452.3 270.7,452.7 274.7,453.1 278.7,453.5 282.7,454 286.7,454.5 290.7,455 294.6,455.4 298.6,455.9 302.6,456.4 306.6,456.9 310.6,457.4 314.6,457.9 318.5,458.3 322.5,458.7 326.5,459.2 330.5,459.6 334.5,460 338.5,460.4 342.4,460.8 346.4,461.1 350.4,461.4 354.4,461.8 358.4,462.1 362.4,462.4 366.4,462.7 370.3,463 374.3,463.3 378.3,463.6 382.3,463.8 386.3,464 390.3,464.3 394.2,464.4 398.2,464.6 402.2,464.7 406.2,464.8 410.2,464.9 414.2,465 418.1,465 422.1,465.1 426.1,465.1 430.1,465.2 434.1,465.1 438.1,465.1 442.1,465 446,464.8 450,464.6 454,464.4 458,464.2 462,463.9 466,463.7 469.9,463.4 473.9,463.2 477.9,462.9 481.9,462.7 485.9,462.4 489.9,462.1 493.8,461.8 497.8,461.5 501.8,461.2 505.8,460.9 509.8,460.6 513.8,460.3 517.8,459.9 521.7,459.6 525.7,459.3 529.7,459 533.7,458.6 537.7,458.3 541.7,457.9 545.6,457.6 549.6,457.2 553.6,456.9 557.6,456.5 561.6,456.2 565.6,455.9 569.6,455.5 573.5,455.2 577.5,454.8 581.5,454.5 585.5,454.1 589.5,453.8 593.5,453.4 597.4,453 601.4,452.6 605.4,452.2 609.4,451.8 613.4,451.3 617.4,450.8 621.3,450.3 625.3,449.8 629.3,449.4 633.3,448.9 637.3,448.5 641.3,448.1 645.3,447.8 649.2,447.4 653.2,447.1 657.2,446.8 661.2,446.5 665.2,446.2 669.2,445.9 673.1,445.6 677.1,445.3 681.1,445 685.1,444.7 689.1,444.4 693.1,444.1 697,443.8 701,443.5 705,443.2 709,442.9 709,453.7 705,454 701,454.2 697,454.5 693.1,454.8 689.1,455 685.1,455.3 681.1,455.6 677.1,455.8 673.1,456.1 669.2,456.4 665.2,456.6 661.2,456.9 657.2,457.2 653.2,457.5 649.2,457.7 645.3,458 641.3,458.4 637.3,458.7 633.3,459.1 629.3,459.5 625.3,459.9 621.3,460.4 617.4,460.8 613.4,461.2 609.4,461.7 605.4,462.1 601.4,462.5 597.4,462.8 593.5,463.2 589.5,463.5 585.5,463.8 581.5,464.2 577.5,464.5 573.5,464.8 569.6,465.1 565.6,465.4 561.6,465.7 557.6,466.1 553.6,466.4 549.6,466.8 545.6,467.1 541.7,467.5 537.7,467.8 533.7,468.2 529.7,468.5 525.7,468.9 521.7,469.2 517.8,469.5 513.8,469.9 509.8,470.2 505.8,470.6 501.8,470.9 497.8,471.2 493.8,471.6 489.9,471.9 485.9,472.2 481.9,472.5 477.9,472.8 473.9,473 469.9,473.3 466,473.6 462,473.9 458,474.2 454,474.4 450,474.7 446,474.9 442.1,475.1 438.1,475.2 434.1,475.3 430.1,475.3 426.1,475.3 422.1,475.3 418.1,475.2 414.2,475.1 410.2,475 406.2,474.9 402.2,474.8 398.2,474.7 394.2,474.6 390.3,474.4 386.3,474.2 382.3,474 378.3,473.8 374.3,473.5 370.3,473.2 366.4,472.9 362.4,472.6 358.4,472.3 354.4,472 350.4,471.7 346.4,471.4 342.4,471.1 338.5,470.7 334.5,470.3 330.5,469.9 326.5,469.5 322.5,469.1 318.5,468.6 314.6,468.2 310.6,467.8 306.6,467.3 302.6,466.8 298.6,466.4 294.6,465.9 290.7,465.5 286.7,465 282.7,464.5 278.7,464.1 274.7,463.7 270.7,463.3 266.7,462.9 262.8,462.6 258.8,462.3 254.8,462.1 250.8,461.8 246.8,461.6 242.8,461.3 238.9,461.1 234.9,460.9 230.9,460.8 226.9,460.7 222.9,460.6 218.9,460.6 214.9,460.6 211,460.6 207,460.7 203,460.7 199,460.8 195,460.9 191,461 187.1,461.1 183.1,461.2 179.1,461.3 175.1,461.5 171.1,461.6 167.1,461.9 163.2,462.1 159.2,462.4 155.2,462.7 151.2,463 147.2,463.4 143.2,463.7 139.2,464.1 135.3,464.5 131.3,464.9 127.3,465.3 123.3,465.7 119.3,466.2 115.3,466.7 111.4,467.2 107.4,467.7 103.4,468.3 99.4,468.9 95.4,469.6 91.4,470.3 87.5,471 83.5,471.7 79.5,472.4 75.5,473.1" fill="#fcae98"/>
<polygon points="75.5,472.2 79.5,471.5 83.5,470.8 87.5,470.1 91.4,469.4 95.4,468.7 99.4,468 103.4,467.4 107.4,466.8 111.4,466.3 115.3,465.8 119.3,465.3 123.3,464.8 127.3,464.4 131.3,464 135.3,463.6 139.2,463.2 143.2,462.8 147.2,462.5 151.2,462.1 155.2,461.8 159.2,461.5 163.2,461.2 167.1,461 171.1,460.7 175.1,460.6 179.1,460.4 183.1,460.3 187.1,460.2 191,460.1 195,460 199,459.9 203,459.8 207,459.8 211,459.7 214.9,459.7 218.9,459.7 222.9,459.7 226.9,459.8 230.9,459.9 234.9,460 238.9,460.2 242.8,460.4 246.8,460.7 250.8,460.9 254.8,461.2 258.8,461.4 262.8,461.7 266.7,462 270.7,462.4 274.7,462.8 278.7,463.2 282.7,463.6 286.7,464.1 290.7,464.6 294.6,465 298.6,465.5 302.6,465.9 306.6,466.4 310.6,466.9 314.6,467.3 318.5,467.7 322.5,468.2 326.5,468.6 330.5,469 334.5,469.4 338.5,469.8 342.4,470.2 346.4,470.5 350.4,470.8 354.4,471.1 358.4,471.4 362.4,471.7 366.4,472 370.3,472.3 374.3,472.6 378.3,472.9 382.3,473.1 386.3,473.3 390.3,473.5 394.2,473.7 398.2,473.8 402.2,473.9 406.2,474 410.2,474.1 414.2,474.2 418.1,474.3 422.1,474.4 426.1,474.4 430.1,474.4 434.1,474.4 438.1,474.3 442.1,474.2 446,474 450,473.8 454,473.5 458,473.3 462,473 466,472.7 469.9,472.4 473.9,472.1 477.9,471.9 481.9,471.6 485.9,471.3 489.9,471 493.8,470.7 497.8,470.3 501.8,470 505.8,469.7 509.8,469.3 513.8,469 517.8,468.6 521.7,468.3 525.7,468 529.7,467.6 533.7,467.3 537.7,466.9 541.7,466.6 545.6,466.2 549.6,465.9 553.6,465.5 557.6,465.2 561.6,464.8 565.6,464.5 569.6,464.2 573.5,463.9 577.5,463.6 581.5,463.3 585.5,462.9 589.5,462.6 593.5,462.3 597.4,461.9 601.4,461.6 605.4,461.2 609.4,460.8 613.4,460.3 617.4,459.9 621.3,459.5 625.3,459 629.3,458.6 633.3,458.2 637.3,457.8 641.3,457.5 645.3,457.1 649.2,456.8 653.2,456.6 657.2,456.3 661.2,456 665.2,455.7 669.2,455.5 673.1,455.2 677.1,454.9 681.1,454.7 685.1,454.4 689.1,454.1 693.1,453.9 697,453.6 701,453.3 705,453.1 709,452.8 709,462 705,462.2 701,462.5 697,462.7 693.1,463 689.1,463.2 685.1,463.4 681.1,463.7 677.1,463.9 673.1,464.2 669.2,464.4 665.2,464.6 661.2,464.9 657.2,465.1 653.2,465.3 649.2,465.6 645.3,465.9 641.3,466.2 637.3,466.5 633.3,466.8 629.3,467.2 625.3,467.6 621.3,467.9 617.4,468.4 613.4,468.8 609.4,469.1 605.4,469.5 601.4,469.9 597.4,470.2 593.5,470.5 589.5,470.8 585.5,471.1 581.5,471.4 577.5,471.7 573.5,472 569.6,472.3 565.6,472.6 561.6,472.9 557.6,473.2 553.6,473.5 549.6,473.9 545.6,474.2 541.7,474.6 537.7,474.9 533.7,475.3 529.7,475.6 525.7,476 521.7,476.3 517.8,476.7 513.8,477.1 509.8,477.4 505.8,477.8 501.8,478.2 497.8,478.5 493.8,478.9 489.9,479.2 485.9,479.6 481.9,479.9 477.9,480.2 473.9,480.5 469.9,480.8 466,481.1 462,481.4 458,481.7 454,482 450,482.3 446,482.5 442.1,482.7 438.1,482.9 434.1,483 430.1,483 426.1,483 422.1,483 418.1,482.9 414.2,482.8 410.2,482.7 406.2,482.7 402.2,482.6 398.2,482.5 394.2,482.3 390.3,482.2 386.3,482 382.3,481.8 378.3,481.5 374.3,481.3 370.3,481 366.4,480.7 362.4,480.4 358.4,480.1 354.4,479.8 350.4,479.5 346.4,479.2 342.4,478.9 338.5,478.5 334.5,478.1 330.5,477.7 326.5,477.3 322.5,476.9 318.5,476.5 314.6,476.1 310.6,475.7 306.6,475.2 302.6,474.8 298.6,474.4 294.6,473.9 290.7,473.5 286.7,473 282.7,472.6 278.7,472.1 274.7,471.7 270.7,471.3 266.7,471 262.8,470.7 258.8,470.4 254.8,470.2 250.8,469.9 246.8,469.7 242.8,469.5 238.9,469.3 234.9,469.1 230.9,468.9 226.9,468.8 222.9,468.8 218.9,468.8 214.9,468.8 211,468.8 207,468.9 203,468.9 199,469 195,469.1 191,469.2 187.1,469.3 183.1,469.4 179.1,469.5 175.1,469.7 171.1,469.9 167.1,470.1 163.2,470.3 159.2,470.6 155.2,470.9 151.2,471.2 147.2,471.6 143.2,471.9 139.2,472.3 135.3,472.7 131.3,473.1 127.3,473.5 123.3,473.9 119.3,474.4 115.3,474.9 111.4,475.4 107.4,475.9 103.4,476.5 99.4,477.1 95.4,477.7 91.4,478.4 87.5,479.1 83.5,479.8 79.5,480.5 75.5,481.2" fill="#fa9097"/>
<polyline points="75.5,446.6 79.5,445.8 83.5,445.1 87.5,444.3 91.4,443.6 95.4,442.9 99.4,442.2 103.4,441.6 107.4,441 111.4,440.4 115.3,439.9 119.3,439.4 123.3,438.9 127.3,438.5 131.3,438.1 135.3,437.7 139.2,437.3 143.2,436.9 147.2,436.5 151.2,436.2 155.2,435.9 159.2,435.6 163.2,435.3 167.1,435 171.1,434.8 175.1,434.7 179.1,434.5 183.1,434.4 187.1,434.3 191,434.2 195,434.2 199,434.1 203,434 207,434 211,433.9 214.9,433.9 218.9,433.9 222.9,433.9 226.9,434 230.9,434.1 234.9,434.3 238.9,434.5 242.8,434.7 246.8,435 250.8,435.2 254.8,435.5 258.8,435.8 262.8,436.1 266.7,436.4 270.7,436.8 274.7,437.2 278.7,437.7 282.7,438.2 286.7,438.7 290.7,439.2 294.6,439.7 298.6,440.2 302.6,440.7 306.6,441.3 310.6,441.8 314.6,442.3 318.5,442.8 322.5,443.3 326.5,443.7 330.5,444.1 334.5,444.6 338.5,445 342.4,445.3 346.4,445.7 350.4,446 354.4,446.4 358.4,446.7 362.4,447 366.4,447.4 370.3,447.7 374.3,448 378.3,448.3 382.3,448.5 386.3,448.8 390.3,449 394.2,449.2 398.2,449.3 402.2,449.4 406.2,449.5 410.2,449.6 414.2,449.7 418.1,449.8 422.1,449.9 426.1,449.9 430.1,450 434.1,450 438.1,449.9 442.1,449.9 446,449.7 450,449.6 454,449.4 458,449.3 462,449.1 466,448.9 469.9,448.6 473.9,448.4 477.9,448.2 481.9,448 485.9,447.8 489.9,447.6 493.8,447.3 497.8,447.1 501.8,446.8 505.8,446.5 509.8,446.2 513.8,446 517.8,445.7 521.7,445.4 525.7,445.1 529.7,444.8 533.7,444.4 537.7,444.1 541.7,443.8 545.6,443.4 549.6,443.1 553.6,442.7 557.6,442.3 561.6,442 565.6,441.6 569.6,441.3 573.5,440.9 577.5,440.5 581.5,440.1 585.5,439.7 589.5,439.3 593.5,438.9 597.4,438.4 601.4,438 605.4,437.5 609.4,437 613.4,436.4 617.4,435.9 621.3,435.3 625.3,434.7 629.3,434.2 633.3,433.7 637.3,433.2 641.3,432.7 645.3,432.3 649.2,431.9 653.2,431.5 657.2,431.2 661.2,430.8 665.2,430.4 669.2,430.1 673.1,429.7 677.1,429.4 681.1,429 685.1,428.7 689.1,428.3 693.1,428 697,427.6 701,427.3 705,427 709,426.6" fill="none" stroke="#eaa07c" stroke-width="0.8" />
<path d="M705 153.5 H967" stroke="#f0525f" stroke-width="1"/>
<path d="M705 233.5 H967" stroke="#5aae5e" stroke-width="1"/>
<path d="M705 289.8 H967" stroke="#f8e085" stroke-width="1.6"/>
<path d="M705 346.5 H967" stroke="#6ab76e" stroke-width="1"/>
<path d="M705 426.3 H967" stroke="#ee6a5e" stroke-width="1"/>
<path d="M75.5 332.5 H967" stroke="#ee1c25" stroke-width="2.2"/>
<polyline points="185,313.1 187.5,314.1 190,314.4 192.5,315.5 195,316.9 197.5,317.7 200,317.4 202.6,318.3 205.1,318.9 207.6,320.2 210.1,320.4 212.6,321.7 215.1,322.7 217.6,322.9 220.1,324.2 222.6,324.8 225.1,324.7 227.6,326.2 230.1,326.5 232.6,327.4 235.1,327.9 237.7,329.2 240.2,329.5 242.7,329.9 245.2,331.1 247.7,332.2 250.2,332.3 252.7,332.8 255.2,333.7 257.7,335.1 260.2,335.7 262.7,335.8 265.2,336.6 267.7,337 270.2,336.8 272.8,336.8 275.3,338.1 277.8,338.3 280.3,338.4 282.8,338.6 285.3,339.2 287.8,339.7 290.3,339.7 292.8,340.1 295.3,340.6 297.8,341.4 300.3,341.3 302.8,341.2 305.3,341.4 307.9,341.9 310.4,341.8 312.9,342.1 315.4,342.7 317.9,342.4 320.4,343.2 322.9,343.4 325.4,344.2 327.9,344.6 330.4,344.9 332.9,345.2 335.4,345.1 337.9,345.7 340.4,345.5 343,346 345.5,345.7 348,345.9 350.5,345.4 353,345.6 355.5,346.5 358,345.4 360.5,346 363,345.9 365.5,345.9 368,345.4 370.5,345.5 373,344.6 375.5,344.4 378.1,344.4 380.6,344.2 383.1,343.9 385.6,343.7 388.1,344.1 390.6,343.4 393.1,344.2 395.6,343.6 398.1,343.2 400.6,343.2 403.1,342.4 405.6,343.2 408.1,342.9 410.6,342.6 413.2,342.1 415.7,342.5 418.2,342.2 420.7,341.9 423.2,342 425.7,341.5 428.2,340.9 430.7,340.9 433.2,340.1 435.7,339.9 438.2,340.3 440.7,340 443.2,339.7 445.7,338.9 448.3,337.7 450.8,336.3 453.3,336.1 455.8,335.8 458.3,334.7 460.8,333.1" fill="none" stroke="#f3ee62" stroke-width="1.5" stroke-opacity="0.7" stroke-linejoin="round"/>
<polyline points="460.8,333.1 463.3,331.9 465.8,330.4 468.3,329.2 470.8,328.1 473.3,328.4 475.8,327.2 478.3,325.8 480.8,325.4 483.4,324.1 485.9,323.6 488.4,323.4 490.9,322.4 493.4,321.1 495.9,319.6 498.4,318.9 500.9,318.1 503.4,316.1 505.9,314.3 508.4,313.1 510.9,312 513.4,312.2 515.9,310.7 518.5,310.1 521,308.3 523.5,307.5 526,307.1 528.5,306.4 531,304.4 533.5,302.7 536,302.3 538.5,299.5 541,297.7 543.5,294.6 546,293.6 548.5,292.3 551,290.7 553.6,288.8 556.1,288.2 558.6,286.3 561.1,285.6 563.6,284.9 566.1,284.6 568.6,282.6 571.1,282.5 573.6,281.2 576.1,280 578.6,277.1 581.1,274.6 583.6,272.2 586.1,270.9 588.7,269.3 591.2,267.8 593.7,266.8 596.2,265.9 598.7,266 601.2,265.3 603.7,263.3 606.2,262.5 608.7,262.4 611.2,261.5 613.7,260 616.2,259.4 618.7,259.1 621.2,258.8 623.8,257.7 626.3,258.3 628.8,257.5 631.3,257.5 633.8,256.4 636.3,257.3 638.8,256.9 641.3,256.3 643.8,257.2 646.3,256.8 648.8,257.1 651.3,256.1 653.8,256.2 656.3,257.2 658.9,256.7 661.4,257.1 663.9,256.7 666.4,258 668.9,257.6 671.4,258.3 673.9,257.5 676.4,258.3 678.9,257.9 681.4,259.3 683.9,258.9 686.4,258.6 688.9,258.8 691.4,259.5 694,259 696.5,259.2 699,259.7 701.5,259.8 704,260 706.5,260.1 709,259.8" fill="none" stroke="#f5f062" stroke-width="2.1" stroke-opacity="0.93" stroke-linejoin="round"/>
<polyline points="112,259.5 116,260.1 120,260.6 124,261.2 128,261.7 132,262.3 136,262.9 140,263.5 144.1,264.1 148.1,264.7 152.1,265.3 156.1,265.9 160.1,266.5 164.1,267.1 168.1,267.7 172.1,268.2 176.1,268.8 180.1,269.3 184.1,269.9 188.1,270.4 192.1,271 196.1,271.5 200.1,272.1 204.2,272.6 208.2,273.2 212.2,273.7 216.2,274.2 220.2,274.8 224.2,275.4 228.2,275.9 232.2,276.5 236.2,277 240.2,277.5 244.2,278.1 248.2,278.6 252.2,279 256.2,279.5 260.2,279.9 264.3,280.3 268.3,280.7 272.3,281.1 276.3,281.5 280.3,282 284.3,282.6 288.3,283.1 292.3,283.7 296.3,284.3 300.3,284.8 304.3,285.4 308.3,285.9 312.3,286.4 316.3,286.9 320.3,287.4 324.4,287.9 328.4,288.3 332.4,288.8 336.4,289.2 340.4,289.7 344.4,290.1 348.4,290.5 352.4,291 356.4,291.4 360.4,291.8 364.4,292.2 368.4,292.6 372.4,293 376.4,293.4 380.4,293.7 384.5,294 388.5,294.3 392.5,294.6 396.5,294.8 400.5,295 404.5,295.3 408.5,295.5 412.5,295.7 416.5,295.9 420.5,296 424.5,296.2 428.5,296.3 432.5,296.5 436.5,296.6 440.6,296.8 444.6,296.9 448.6,297 452.6,297.1 456.6,297.2 460.6,297.3 464.6,297.4 468.6,297.5 472.6,297.6 476.6,297.7 480.6,297.7 484.6,297.8 488.6,297.9 492.6,298 496.6,298.1 500.7,298.2 504.7,298.3 508.7,298.5 512.7,298.6 516.7,298.7 520.7,298.8 524.7,298.9 528.7,299.1 532.7,299.2 536.7,299.3 540.7,299.4 544.7,299.5 548.7,299.7 552.7,299.8 556.7,299.9 560.8,300 564.8,300.1 568.8,300.3 572.8,300.4 576.8,300.6 580.8,300.7 584.8,300.8 588.8,300.9 592.8,301 596.8,301.1 600.8,301.2 604.8,301.3 608.8,301.3 612.8,301.4 616.8,301.4 620.9,301.5 624.9,301.5 628.9,301.5 632.9,301.6 636.9,301.6 640.9,301.7 644.9,301.7 648.9,301.8 652.9,301.9 656.9,302 660.9,302.1 664.9,302.2 668.9,302.4 672.9,302.6 676.9,302.8 681,303.1 685,303.4 689,303.9 693,304.5 697,305.1 701,305.9 705,306.7 709,307.5" fill="none" stroke="#e9544e" stroke-width="2" />
<polyline points="75.5,300 79.5,300 83.5,300.1 87.5,300.1 91.5,300.2 95.5,300.2 99.6,300.3 103.6,300.3 107.6,300.4 111.6,300.4 115.6,300.5 119.6,300.5 123.6,300.5 127.6,300.6 131.6,300.6 135.6,300.7 139.7,300.7 143.7,300.8 147.7,300.8 151.7,300.9 155.7,300.9 159.7,301 163.7,301 167.7,301 171.7,301 175.7,301 179.7,301 183.8,301 187.8,301 191.8,301 195.8,301 199.8,301 203.8,301 207.8,301 211.8,301 215.8,301.1 219.8,301.2 223.9,301.3 227.9,301.4 231.9,301.6 235.9,301.7 239.9,301.9 243.9,302.1 247.9,302.3 251.9,302.5 255.9,302.8 259.9,303.2 263.9,303.7 268,304.3 272,304.9 276,305.5 280,306.2 284,306.9 288,307.7 292,308.6 296,309.4 300,310.3 304,311.2 308.1,312 312.1,312.8 316.1,313.6 320.1,314.3 324.1,315.1 328.1,315.8 332.1,316.5 336.1,317.2 340.1,317.9 344.1,318.5 348.1,319 352.2,319.5 356.2,320 360.2,320.5 364.2,320.9 368.2,321.3 372.2,321.7 376.2,322.1 380.2,322.5 384.2,322.9 388.2,323.3 392.3,323.8 396.3,324.2 400.3,324.6 404.3,325 408.3,325.4 412.3,325.8 416.3,326.2 420.3,326.5 424.3,326.9 428.3,327.2 432.4,327.5 436.4,327.9 440.4,328.2 444.4,328.4 448.4,328.7 452.4,328.9 456.4,329 460.4,329.1 464.4,329.3 468.4,329.4 472.4,329.5 476.5,329.6 480.5,329.6 484.5,329.7 488.5,329.7 492.5,329.7 496.5,329.5 500.5,329.3 504.5,329 508.5,328.7 512.5,328.3 516.6,327.9 520.6,327.4 524.6,327 528.6,326.4 532.6,325.8 536.6,325.1 540.6,324.3 544.6,323.3 548.6,322.1 552.6,320.8 556.6,319.5 560.7,318.3 564.7,317 568.7,315.7 572.7,314.6 576.7,313.6 580.7,312.9 584.7,312.2 588.7,311.6 592.7,311.1 596.7,310.5 600.8,309.9 604.8,309.3 608.8,308.7 612.8,308.1 616.8,307.4 620.8,306.8 624.8,306 628.8,305.3 632.8,304.5 636.8,303.7 640.8,302.8 644.9,301.9 648.9,301 652.9,300 656.9,299 660.9,297.9 664.9,297 668.9,296.1 672.9,295.2 676.9,294.4 680.9,293.6 685,292.8 689,292.2 693,291.5 697,291 701,290.5 705,290" fill="none" stroke="#f5c33b" stroke-width="2.2" />
<polyline points="80,313 84,312.7 88,312.3 92,312 96,311.7 100,311.3 104,311 108,310.6 112.1,310.2 116.1,309.9 120.1,309.5 124.1,309.1 128.1,308.7 132.1,308.2 136.1,307.8 140.1,307.3 144.1,306.9 148.1,306.4 152.1,306.1 156.1,305.7 160.1,305.5 164.1,305.3 168.1,305 172.1,304.8 176.2,304.7 180.2,304.6 184.2,304.5 188.2,304.5 192.2,304.7 196.2,305 200.2,305.2 204.2,305.5 208.2,305.6 212.2,305.8 216.2,306 220.2,306.2 224.2,306.4 228.2,306.5 232.2,306.7 236.2,306.9 240.3,307 244.3,307.2 248.3,307.4 252.3,307.5 256.3,307.6 260.3,307.8 264.3,307.9 268.3,308 272.3,308.1 276.3,308.3 280.3,308.5 284.3,308.8 288.3,309.1 292.3,309.5 296.3,309.9 300.4,310.3 304.4,310.7 308.4,311.2 312.4,311.6 316.4,312.2 320.4,312.8 324.4,313.6 328.4,314.3 332.4,315.1 336.4,315.9 340.4,316.6 344.4,317.3 348.4,317.9 352.4,318.4 356.4,318.8 360.4,319.3 364.5,319.7 368.5,320.1 372.5,320.5 376.5,320.9 380.5,321.3 384.5,321.8 388.5,322.2 392.5,322.6 396.5,323 400.5,323.4 404.5,323.8 408.5,324.2 412.5,324.6 416.5,325 420.5,325.3 424.5,325.7 428.6,326 432.6,326.4 436.6,326.7 440.6,327.1 444.6,327.3 448.6,327.6 452.6,327.8 456.6,327.9 460.6,328 464.6,328.1 468.6,328.2 472.6,328.3 476.6,328.4 480.6,328.4 484.6,328.5 488.6,328.5 492.7,328.5 496.7,328.3 500.7,328.1 504.7,327.8 508.7,327.4 512.7,327 516.7,326.6 520.7,326.2 524.7,325.7 528.7,325 532.7,324.3 536.7,323.6 540.7,322.8 544.7,322 548.7,321.3 552.8,320.6 556.8,319.8 560.8,318.7 564.8,317.3 568.8,315.8 572.8,314.4 576.8,313.4 580.8,312.6 584.8,311.9 588.8,311.2 592.8,310.6 596.8,310.1 600.8,309.5 604.8,308.9 608.8,308.3 612.8,307.7 616.9,307.3 620.9,306.9 624.9,306.7 628.9,306.4 632.9,306.2 636.9,306 640.9,305.8 644.9,305.6 648.9,305.5 652.9,305.3 656.9,305.1 660.9,305 664.9,304.8 668.9,304.7 672.9,304.5 676.9,304.2 681,303.9 685,303.1 689,302.2 693,301.5 697,300.7 701,300 705,299.4 709,298.8" fill="none" stroke="#62a32c" stroke-width="2" />
<text transform="translate(553,324.2) rotate(-5.4)" font-size="13" fill="#e0763a" textLength="50" lengthAdjust="spacingAndGlyphs">trendline</text>
<polyline points="180,348.8 183,348.9 186,348.1 189,348.4 192,347.9 195,347.8 198,347.8 201,347.5 204,347.2 207.1,347 210.1,346.8 213.1,347.2 216.1,346.9 219.1,346.6 222.1,347 225.1,346.5 228.1,346.5 231.1,346.3 234.1,346.4 237.1,346.3 240.1,346.2 243.1,345.9 246.1,345.8 249.1,345.6 252.1,345.6 255.1,345.4 258.1,345.3 261.2,345.7 264.2,345.6 267.2,345 270.2,344.8 273.2,344.8 276.2,345 279.2,345 282.2,344.4 285.2,344.6 288.2,344.1 291.2,344.4 294.2,344.4 297.2,344.5 300.2,343.9 303.2,344.1 306.2,344.1 309.2,344 312.2,343.2 315.3,343.4 318.3,343.6 321.3,343.1 324.3,343.2 327.3,342.9 330.3,342.9 333.3,342.6 336.3,342.1 339.3,342 342.3,341.8 345.3,341.8 348.3,342.1 351.3,341.7 354.3,341.7 357.3,341.3 360.3,341.2 363.3,341.2 366.4,341.1 369.4,340.9 372.4,340.7 375.4,340 378.4,340 381.4,339.6 384.4,339.8 387.4,339.8 390.4,339.1 393.4,339.1 396.4,339.1 399.4,338.8 402.4,339.1 405.4,338.6 408.4,338.6 411.4,338.4 414.4,338.3 417.4,338.3 420.5,338.2 423.5,337.4 426.5,337.7 429.5,337.1 432.5,336.7 435.5,336.6 438.5,336.5 441.5,336.4 444.5,335.6 447.5,334.9 450.5,335 453.5,333.9 456.5,333.6 459.5,333.3 462.5,332.5 465.5,331.9 468.5,331.7 471.6,330.7 474.6,330.7 477.6,330.1 480.6,330.1 483.6,329.6 486.6,328.7 489.6,328.3 492.6,328.1 495.6,327.8 498.6,327.1 501.6,326.7 504.6,326.6 507.6,326.1 510.6,325.3 513.6,325.1 516.6,324.2 519.6,323.5 522.6,323.3 525.7,322.8 528.7,322.4 531.7,321.8 534.7,321 537.7,320.4 540.7,319.8 543.7,319.2 546.7,318.7 549.7,318.3 552.7,317.4 555.7,316.7 558.7,316.3 561.7,315.7 564.7,315.3 567.7,315 570.7,313.9 573.7,313.6 576.8,313.3 579.8,312.4 582.8,311.7 585.8,311.4 588.8,310.8 591.8,310.8 594.8,309.9 597.8,309.5 600.8,309.5 603.8,309.1 606.8,308.5 609.8,308.3 612.8,307.3 615.8,307.6 618.8,307 621.8,306.6 624.8,306.8 627.8,306.5 630.9,306.6 633.9,305.8 636.9,306 639.9,305.8 642.9,305.8 645.9,305.4 648.9,305.1 651.9,305.4 654.9,305.1 657.9,305.4 660.9,305 663.9,304.9 666.9,305 669.9,304.8 672.9,305 675.9,304.8 678.9,304.4 681.9,304.1 685,304.2 688,304.2 691,304 694,304 697,303.2 700,303.1 703,302.9 706,302.6 709,302.4" fill="none" stroke="#4548cf" stroke-width="2.2" stroke-linejoin="round"/>
<g fill-opacity="0.85">
<rect x="75.5" y="229.5" width="5.1" height="7.6" fill="#fadcba"/>
<rect x="75.5" y="238.5" width="19.2" height="7.6" fill="#fadcba"/>
<rect x="75.5" y="247.5" width="52.9" height="7.6" fill="#fadcba"/>
<rect x="75.5" y="256.5" width="18.5" height="7.6" fill="#3270eb"/>
<rect x="94" y="256.5" width="91.8" height="7.6" fill="#fa9c1f"/>
<rect x="75.5" y="265.5" width="91" height="7.6" fill="#fa9c1f"/>
<rect x="75.5" y="274.5" width="38.9" height="7.6" fill="#fa9c1f"/>
<rect x="75.5" y="283.5" width="72.2" height="7.6" fill="#fa9c1f"/>
<rect x="75.5" y="292.5" width="10" height="7.6" fill="#3270eb"/>
<rect x="85.5" y="292.5" width="86.1" height="7.6" fill="#fa9c1f"/>
<rect x="75.5" y="301.5" width="24.3" height="7.6" fill="#3270eb"/>
<rect x="99.8" y="301.5" width="105.5" height="7.6" fill="#fa9c1f"/>
<rect x="75.5" y="310.5" width="14.5" height="7.6" fill="#3270eb"/>
<rect x="90" y="310.5" width="95.8" height="7.6" fill="#fa9c1f"/>
<rect x="75.5" y="319.5" width="14.5" height="7.6" fill="#3270eb"/>
<rect x="90" y="319.5" width="95.8" height="7.6" fill="#fa9c1f"/>
<rect x="75.5" y="328.5" width="37.9" height="7.6" fill="#3270eb"/>
<rect x="113.4" y="328.5" width="124.6" height="7.6" fill="#fa9c1f"/>
<rect x="75.5" y="337.5" width="24.5" height="7.6" fill="#3270eb"/>
<rect x="100" y="337.5" width="105.3" height="7.6" fill="#fa9c1f"/>
<rect x="75.5" y="346.5" width="9.8" height="7.6" fill="#3270eb"/>
<rect x="85.3" y="346.5" width="90" height="7.6" fill="#fa9c1f"/>
</g>
<rect x="652" y="116" width="199.5" height="13" fill="#f23645" fill-opacity="0.2" stroke="#78b684" stroke-width="1.1"/>
<polyline points="84,255.6 86,255.2 88,254.8 90,254.5 92,254.1 94,253.8 96,253.4 98,253.1 100,252.8 102,252.5 104,252.2 106,252 108,251.7 110,251.5 112,251.2 114,251 116.1,250.7 118.1,250.5 120.1,250.3 122.1,250 124.1,249.8 126.1,249.6 128.1,249.4 130.1,249.1 132.1,248.9 134.1,248.7 136.1,248.5 138.1,248.3 140.1,248.1 142.1,247.9 144.1,247.7 146.1,247.4 148.1,247.2 150.1,247 152.1,246.8 154.1,246.7 156.1,246.5 158.1,246.3 160.1,246.2 162.1,246.1 164.1,245.9 166.1,245.8 168.1,245.7 170.1,245.5 172.1,245.4 174.1,245.3 176.1,245.2 178.2,245.1 180.2,245.1 182.2,245 184.2,245 186.2,245 188.2,245 190.2,245 192.2,245.1 194.2,245.1 196.2,245.1 198.2,245.2 200.2,245.2 202.2,245.3 204.2,245.3 206.2,245.4 208.2,245.4 210.2,245.5 212.2,245.6 214.2,245.6 216.2,245.7 218.2,245.8 220.2,245.9 222.2,246 224.2,246.1 226.2,246.2 228.2,246.3 230.2,246.4 232.2,246.6 234.2,246.7 236.2,246.8 238.2,247 240.3,247.2 242.3,247.3 244.3,247.5 246.3,247.7 248.3,247.9 250.3,248.2 252.3,248.4 254.3,248.6 256.3,248.8 258.3,249.1 260.3,249.3 262.3,249.5 264.3,249.7 266.3,250 268.3,250.2 270.3,250.5 272.3,250.7 274.3,251 276.3,251.3 278.3,251.5 280.3,251.8 282.3,252.1 284.3,252.4 286.3,252.7 288.3,253 290.3,253.4 292.3,253.8 294.3,254.2 296.3,254.6 298.3,255 300.3,255.3 302.4,255.7 304.4,256.1 306.4,256.4 308.4,256.8 310.4,257.1 312.4,257.3 314.4,257.5 316.4,257.7 318.4,258 320.4,258.2 322.4,258.4 324.4,258.7 326.4,259 328.4,259.3 330.4,259.7 332.4,260.1 334.4,260.5 336.4,260.9 338.4,261.4 340.4,261.8 342.4,262.2 344.4,262.7 346.4,263.1 348.4,263.5 350.4,263.8 352.4,264.2 354.4,264.5 356.4,264.8 358.4,265.1 360.4,265.4 362.4,265.7 364.5,266 366.5,266.3 368.5,266.5 370.5,266.8 372.5,267.1 374.5,267.4 376.5,267.7 378.5,268 380.5,268.3 382.5,268.7 384.5,269 386.5,269.3 388.5,269.6 390.5,269.9 392.5,270.2 394.5,270.5 396.5,270.8 398.5,271.1 400.5,271.3 402.5,271.5 404.5,271.8 406.5,272 408.5,272.2 410.5,272.4 412.5,272.6 414.5,272.8 416.5,272.9 418.5,273.1 420.5,273.3 422.5,273.5 424.5,273.7 426.6,273.9 428.6,274.1 430.6,274.3 432.6,274.5 434.6,274.7 436.6,275 438.6,275.2 440.6,275.4 442.6,275.6 444.6,275.8 446.6,276 448.6,276.1 450.6,276.3 452.6,276.5 454.6,276.6 456.6,276.8 458.6,277 460.6,277.1 462.6,277.3 464.6,277.4 466.6,277.5 468.6,277.7 470.6,277.8 472.6,277.9 474.6,278 476.6,278.1 478.6,278.2 480.6,278.2 482.6,278.3 484.6,278.4 486.6,278.5 488.7,278.5 490.7,278.6 492.7,278.7 494.7,278.7 496.7,278.7 498.7,278.7 500.7,278.7 502.7,278.7 504.7,278.6 506.7,278.5 508.7,278.4 510.7,278.2 512.7,278 514.7,277.7 516.7,277.5 518.7,277.3 520.7,277 522.7,276.8 524.7,276.5 526.7,276.3 528.7,276 530.7,275.8 532.7,275.5 534.7,275.2 536.7,274.8 538.7,274.5 540.7,274.2 542.7,273.8 544.7,273.5 546.7,273.1 548.7,272.7 550.8,272.4 552.8,272 554.8,271.6 556.8,271.2 558.8,270.7 560.8,270.3 562.8,269.8 564.8,269.4 566.8,268.9 568.8,268.5 570.8,268 572.8,267.5 574.8,267 576.8,266.6 578.8,266.1 580.8,265.6 582.8,265.1 584.8,264.6 586.8,264.1 588.8,263.6 590.8,263.1 592.8,262.6 594.8,262 596.8,261.5 598.8,260.9 600.8,260.4 602.8,259.8 604.8,259.2 606.8,258.6 608.8,257.9 610.8,257.3 612.9,256.7 614.9,256 616.9,255.4 618.9,254.8 620.9,254.1 622.9,253.5 624.9,252.8 626.9,252.2 628.9,251.6 630.9,250.9 632.9,250.3 634.9,249.6 636.9,249 638.9,248.3 640.9,247.7 642.9,247.1 644.9,246.4 646.9,245.8 648.9,245.1 650.9,244.5 652.9,243.8 654.9,243.2 656.9,242.7 658.9,242.2 660.9,241.7 662.9,241.3 664.9,240.8 666.9,240.4 668.9,240.1 670.9,239.7 672.9,239.3 675,239 677,238.7 679,238.3 681,238 683,237.7 685,237.3 687,237 689,236.7 691,236.3 693,236 695,235.7 697,235.3 699,235 701,234.7 703,234.3 705,234" fill="none" stroke="#8fc392" stroke-width="2.3" stroke-dasharray="2.1 2.75"/>
<polyline points="75.6,368 77.6,367.6 79.6,367.3 81.6,366.9 83.6,366.5 85.6,366.1 87.6,365.8 89.6,365.4 91.6,365 93.6,364.6 95.6,364.3 97.6,363.9 99.7,363.5 101.7,363.1 103.7,362.8 105.7,362.4 107.7,362.1 109.7,361.8 111.7,361.5 113.7,361.2 115.7,360.9 117.7,360.7 119.7,360.4 121.7,360.2 123.7,360 125.7,359.8 127.7,359.6 129.7,359.4 131.7,359.2 133.7,359.1 135.7,358.9 137.7,358.7 139.7,358.6 141.7,358.4 143.8,358.3 145.8,358.2 147.8,358 149.8,357.9 151.8,357.8 153.8,357.7 155.8,357.5 157.8,357.4 159.8,357.3 161.8,357.2 163.8,357 165.8,356.9 167.8,356.8 169.8,356.7 171.8,356.6 173.8,356.5 175.8,356.4 177.8,356.3 179.8,356.2 181.8,356.2 183.8,356.1 185.8,356.1 187.8,356.1 189.9,356 191.9,356 193.9,356 195.9,356 197.9,356 199.9,356 201.9,356 203.9,356 205.9,356 207.9,356.1 209.9,356.1 211.9,356.1 213.9,356.1 215.9,356.2 217.9,356.2 219.9,356.2 221.9,356.3 223.9,356.3 225.9,356.3 227.9,356.4 229.9,356.4 231.9,356.4 234,356.5 236,356.6 238,356.7 240,356.8 242,356.9 244,357 246,357.2 248,357.3 250,357.5 252,357.6 254,357.8 256,358 258,358.1 260,358.3 262,358.5 264,358.7 266,358.8 268,359 270,359.2 272,359.4 274,359.7 276,359.9 278.1,360.2 280.1,360.4 282.1,360.7 284.1,360.9 286.1,361.2 288.1,361.5 290.1,361.7 292.1,362 294.1,362.3 296.1,362.5 298.1,362.8 300.1,363 302.1,363.3 304.1,363.5 306.1,363.7 308.1,364 310.1,364.2 312.1,364.5 314.1,364.7 316.1,365 318.1,365.2 320.1,365.5 322.1,365.8 324.2,366.1 326.2,366.3 328.2,366.6 330.2,366.9 332.2,367.2 334.2,367.5 336.2,367.8 338.2,368.1 340.2,368.4 342.2,368.7 344.2,369 346.2,369.3 348.2,369.6 350.2,369.8 352.2,370.1 354.2,370.3 356.2,370.6 358.2,370.9 360.2,371.1 362.2,371.4 364.2,371.6 366.2,371.8 368.3,372.1 370.3,372.3 372.3,372.5 374.3,372.8 376.3,373 378.3,373.2 380.3,373.4 382.3,373.7 384.3,373.9 386.3,374.1 388.3,374.3 390.3,374.5 392.3,374.7 394.3,375 396.3,375.1 398.3,375.3 400.3,375.5 402.3,375.7 404.3,375.9 406.3,376 408.3,376.1 410.3,376.3 412.3,376.4 414.4,376.5 416.4,376.6 418.4,376.7 420.4,376.8 422.4,376.9 424.4,377 426.4,377.1 428.4,377.2 430.4,377.3 432.4,377.3 434.4,377.4 436.4,377.4 438.4,377.5 440.4,377.5 442.4,377.6 444.4,377.6 446.4,377.7 448.4,377.7 450.4,377.7 452.4,377.8 454.4,377.8 456.4,377.8 458.5,377.8 460.5,377.8 462.5,377.8 464.5,377.8 466.5,377.7 468.5,377.7 470.5,377.7 472.5,377.6 474.5,377.6 476.5,377.6 478.5,377.5 480.5,377.5 482.5,377.4 484.5,377.4 486.5,377.3 488.5,377.2 490.5,377.1 492.5,377 494.5,376.9 496.5,376.8 498.5,376.6 500.5,376.5 502.5,376.4 504.6,376.2 506.6,376.1 508.6,375.9 510.6,375.8 512.6,375.6 514.6,375.4 516.6,375.3 518.6,375.1 520.6,375 522.6,374.8 524.6,374.6 526.6,374.4 528.6,374.2 530.6,374 532.6,373.8 534.6,373.6 536.6,373.4 538.6,373.2 540.6,373 542.6,372.7 544.6,372.5 546.6,372.3 548.7,372 550.7,371.8 552.7,371.5 554.7,371.2 556.7,371 558.7,370.7 560.7,370.4 562.7,370.1 564.7,369.8 566.7,369.5 568.7,369.1 570.7,368.8 572.7,368.4 574.7,368 576.7,367.6 578.7,367.2 580.7,366.8 582.7,366.4 584.7,366 586.7,365.6 588.7,365.2 590.7,364.8 592.8,364.4 594.8,364 596.8,363.6 598.8,363.2 600.8,362.9 602.8,362.5 604.8,362.1 606.8,361.7 608.8,361.3 610.8,360.9 612.8,360.5 614.8,360.2 616.8,359.8 618.8,359.4 620.8,359 622.8,358.6 624.8,358.2 626.8,357.8 628.8,357.5 630.8,357.1 632.8,356.7 634.8,356.4 636.8,356 638.9,355.7 640.9,355.4 642.9,355 644.9,354.7 646.9,354.4 648.9,354 650.9,353.7 652.9,353.4 654.9,353.1 656.9,352.7 658.9,352.4 660.9,352.1 662.9,351.8 664.9,351.5 666.9,351.2 668.9,350.9 670.9,350.7 672.9,350.4 674.9,350.1 676.9,349.9 678.9,349.6 680.9,349.4 683,349.2 685,348.9 687,348.7 689,348.5 691,348.3 693,348.1 695,347.9 697,347.7 699,347.5 701,347.3 703,347.2 705,347" fill="none" stroke="#8fc392" stroke-width="2.3" stroke-dasharray="2.1 2.75"/>
<path d="M75.5 267.6 H967" stroke="#f23645" stroke-width="1" stroke-dasharray="1.2 2.4" stroke-opacity="0.8"/>
<g clip-path="url(#mainclip)">
<path d="M76.2 313 V315 M76.2 326 V328 M81 303 V306.9 M81 317.5 V319 M90.5 311 V312.5 M90.5 320.6 V323.8 M109.5 336 V338 M109.5 351 V352 M119 328 V331.9 M119 341.9 V343.8 M133.3 321.9 V329.4 M133.3 337.5 V338.5 M138 318 V320.6 M138 329.4 V335.6 M142.8 304 V305 M142.8 320.6 V326.9 M152.3 293.5 V294.4 M152.3 306.9 V318 M180.9 338.5 V339.4 M180.9 348 V351 M195.1 340.6 V345.6 M195.1 350 V351 M199.9 326 V327.5 M199.9 345.6 V346 M204.6 314.4 V318 M204.6 328 V332.5 M237.9 342 V343 M237.9 348 V353.8 M242.7 338.8 V340 M242.7 343.8 V350 M252.2 355.5 V356.2 M252.2 362.5 V363 M271.2 375.6 V378 M271.2 384.8 V385 M276 343.8 V350.2 M276 378.5 V386.9 M280.8 345.6 V356.2 M285.5 344.4 V345.6 M285.5 350 V353.8 M290.3 342 V343 M290.3 346 V348 M299.8 340.6 V353.5 M309.3 355 V356.2 M309.3 365.6 V369.4 M318.8 343 V343.8 M318.8 357.5 V358.8 M323.6 328.8 V333 M323.6 343.8 V346.2 M328.3 330 V337 M333.1 323 V327 M333.1 332 V335 M342.6 298.8 V322.2 M342.6 335 V335.5 M356.9 336.2 V340 M356.9 344.4 V346.2 M361.6 323.8 V329.4 M361.6 340 V342.5 M366.4 319.4 V323.5 M366.4 329.8 V330.5 M385.4 339.5 V343.8 M394.9 339.5 V343.8 M399.7 325.6 V331.2 M399.7 340 V340.6 M404.4 326.2 V327.5 M404.4 331.9 V334.4 M413.9 331.9 V333 M413.9 338.8 V341.2 M418.7 328.8 V338 M423.5 323.8 V325.6 M423.5 331.9 V333.8 M428.2 314.4 V315.6 M428.2 325.6 V331.2 M433 310.6 V319.4 M437.7 295 V297.5 M437.7 315.3 V320 M461.5 301.2 V303 M461.5 307.5 V308 M471 286.2 V291.2 M471 305.6 V306 M485.3 297 V298 M485.3 309.8 V316.2 M490.1 288.8 V290.6 M490.1 298.8 V303.8 M494.8 265.6 V272.5 M494.8 290.6 V294.4 M499.6 260.6 V265.6 M499.6 272.5 V285 M509.1 242.5 V259.4 M509.1 266.9 V268 M523.4 259.4 V268.8 M528.1 251.2 V253.8 M528.1 263.8 V264.5 M532.9 245.6 V251 M532.9 253.8 V260.6 M537.6 220.6 V224.4 M537.6 250.6 V260 M542.4 203 V213 M542.4 224.4 V226.9 M547.1 188.8 V201.2 M547.1 213 V217.5 M551.9 184.4 V185.6 M551.9 201.2 V208.8 M580.4 236 V236.9 M580.4 252.5 V262 M585.2 229.4 V234.4 M585.2 237.5 V243 M594.7 232.5 V236.2 M594.7 242.2 V243 M599.5 226.2 V231.9 M599.5 236.9 V241.2 M604.2 214.4 V223 M604.2 231.2 V233.8 M628 251.2 V281.2 M632.8 248.8 V253 M632.8 261.2 V262 M651.8 295 V296.9 M651.8 302.5 V303 M661.3 301.2 V304.6 M661.3 312.6 V318.8 M666.1 300.6 V307.5 M670.8 296.2 V301.9 M670.8 304.8 V305.2 M675.6 282 V283 M675.6 302.5 V303 M680.3 277.5 V280 M680.3 283.5 V293.8 M689.9 296.5 V297.5 M689.9 302.5 V303 M694.6 281.9 V287.2 M694.6 298 V301.9 M699.4 272.5 V274 M699.4 287.2 V290.6 M704.1 266.5 V267.5 M704.1 274.4 V289.4" stroke="#12997f" stroke-width="1" fill="none"/>
<path d="M85.7 298.8 V323 M95.2 314.4 V327 M100 323 V330 M104.7 323.8 V358 M114.3 337 V342 M123.8 329.4 V336 M128.5 334 V340.6 M147.6 304.4 V316.9 M157.1 288.8 V299.4 M161.8 286.2 V310.6 M166.6 305 V315.5 M171.3 306.2 V330 M176.1 329 V359.4 M185.6 339 V347.5 M190.4 346.5 V356.9 M209.4 312 V334 M214.2 323.8 V342.5 M218.9 332.5 V346 M223.7 338 V346 M228.4 344 V346.5 M233.2 341 V349 M247.5 339.5 V374.4 M257 356 V386.2 M261.7 368.8 V383.8 M266.5 379 V399.5 M295 341.2 V355.6 M304.5 352 V366 M314.1 349.4 V361.2 M337.8 325 V336.2 M347.3 320.5 V340 M352.1 337.5 V348.8 M371.1 321.5 V334.4 M375.9 325.6 V336.9 M380.6 333.8 V346.2 M390.2 339 V345.6 M409.2 326.2 V341.9 M442.5 290.6 V303 M447.2 286.9 V309.8 M452 300 V305 M456.8 303.5 V314.4 M466.3 298 V308.8 M475.8 286.2 V303.5 M480.5 301.2 V313 M504.3 261.9 V279.4 M513.8 249.4 V273 M518.6 261 V270.6 M556.7 185.5 V211.2 M561.4 207.5 V244.4 M566.2 223 V256.9 M570.9 223 V249 M575.7 245.5 V262 M590 232.2 V243 M609 219.4 V248.8 M613.7 237.5 V253 M618.5 241.9 V260 M623.3 248.8 V264.8 M637.5 252 V278 M642.3 275.5 V292.5 M647 281.2 V311.2 M656.6 296 V320 M685.1 279 V302.5 M708.9 266.2 V272.5" stroke="#ee3a4e" stroke-width="1" fill="none"/>
<g fill="#d9f5ea" stroke="#12997f" stroke-width="0.9"><rect x="74.9" y="315.4" width="2.6" height="10.2"/><rect x="79.7" y="307.3" width="2.6" height="9.8"/><rect x="89.2" y="312.9" width="2.6" height="7.3"/><rect x="108.2" y="338.4" width="2.6" height="12.2"/><rect x="117.7" y="332.3" width="2.6" height="9.2"/><rect x="132" y="329.8" width="2.6" height="7.3"/><rect x="136.7" y="321" width="2.6" height="8"/><rect x="141.5" y="305.4" width="2.6" height="14.8"/><rect x="151" y="294.8" width="2.6" height="11.7"/><rect x="179.6" y="339.8" width="2.6" height="7.8"/><rect x="193.8" y="346" width="2.6" height="3.6"/><rect x="198.6" y="327.9" width="2.6" height="17.3"/><rect x="203.3" y="318.4" width="2.6" height="9.2"/><rect x="236.6" y="343.4" width="2.6" height="4.2"/><rect x="241.4" y="340.4" width="2.6" height="3"/><rect x="250.9" y="356.6" width="2.6" height="5.5"/><rect x="269.9" y="378.4" width="2.6" height="6"/><rect x="274.7" y="350.6" width="2.6" height="27.4"/><rect x="284.2" y="346" width="2.6" height="3.6"/><rect x="289" y="343.4" width="2.6" height="2.2"/><rect x="308" y="356.6" width="2.6" height="8.6"/><rect x="317.5" y="344.1" width="2.6" height="12.9"/><rect x="322.3" y="333.4" width="2.6" height="9.9"/><rect x="331.8" y="327.4" width="2.6" height="4.2"/><rect x="341.3" y="322.6" width="2.6" height="11.9"/><rect x="355.6" y="340.4" width="2.6" height="3.6"/><rect x="360.3" y="329.8" width="2.6" height="9.8"/><rect x="365.1" y="323.9" width="2.6" height="5.5"/><rect x="398.4" y="331.6" width="2.6" height="8"/><rect x="403.1" y="327.9" width="2.6" height="3.6"/><rect x="412.6" y="333.4" width="2.6" height="5"/><rect x="422.2" y="326" width="2.6" height="5.5"/><rect x="426.9" y="316" width="2.6" height="9.2"/><rect x="436.4" y="297.9" width="2.6" height="17"/><rect x="460.2" y="303.4" width="2.6" height="3.7"/><rect x="469.7" y="291.6" width="2.6" height="13.6"/><rect x="484" y="298.4" width="2.6" height="10.9"/><rect x="488.8" y="291" width="2.6" height="7.3"/><rect x="493.5" y="272.9" width="2.6" height="17.3"/><rect x="498.3" y="266" width="2.6" height="6.1"/><rect x="507.8" y="259.8" width="2.6" height="6.7"/><rect x="526.8" y="254.2" width="2.6" height="9.2"/><rect x="531.6" y="251.4" width="2.6" height="1.9"/><rect x="536.3" y="224.8" width="2.6" height="25.4"/><rect x="541.1" y="213.4" width="2.6" height="10.6"/><rect x="545.8" y="201.7" width="2.6" height="10.9"/><rect x="550.6" y="186" width="2.6" height="14.9"/><rect x="579.1" y="237.3" width="2.6" height="14.8"/><rect x="583.9" y="234.8" width="2.6" height="2.3"/><rect x="593.4" y="236.7" width="2.6" height="5.2"/><rect x="598.2" y="232.3" width="2.6" height="4.2"/><rect x="602.9" y="223.4" width="2.6" height="7.5"/><rect x="631.5" y="253.4" width="2.6" height="7.5"/><rect x="650.5" y="297.3" width="2.6" height="4.8"/><rect x="660" y="305" width="2.6" height="7.2"/><rect x="669.5" y="302.3" width="2.6" height="2.1"/><rect x="674.3" y="283.4" width="2.6" height="18.7"/><rect x="679" y="280.4" width="2.6" height="2.7"/><rect x="688.6" y="297.9" width="2.6" height="4.2"/><rect x="693.3" y="287.6" width="2.6" height="9.9"/><rect x="698.1" y="274.4" width="2.6" height="12.4"/><rect x="702.8" y="267.9" width="2.6" height="6.1"/></g>
<g fill="#12997f"><rect x="279.1" y="349.4" width="3.4" height="1.2"/><rect x="298.1" y="351.9" width="3.4" height="1.2"/><rect x="326.6" y="331.4" width="3.4" height="1.2"/><rect x="383.7" y="340" width="3.4" height="2"/><rect x="393.2" y="340" width="3.4" height="2.5"/><rect x="417" y="332.4" width="3.4" height="1.2"/><rect x="431.3" y="315" width="3.4" height="1.9"/><rect x="521.7" y="262.9" width="3.4" height="1.2"/><rect x="626.3" y="261.2" width="3.4" height="1.5"/><rect x="664.4" y="304.3" width="3.4" height="1.2"/></g>
<g fill="#ee3a4e"><rect x="84" y="307.5" width="3.4" height="14.4"/><rect x="93.5" y="320" width="3.4" height="6.5"/><rect x="98.3" y="326.2" width="3.4" height="3.1"/><rect x="103" y="329.4" width="3.4" height="21.9"/><rect x="112.6" y="338" width="3.4" height="3.5"/><rect x="122.1" y="331.2" width="3.4" height="4.4"/><rect x="126.8" y="335" width="3.4" height="1.9"/><rect x="145.9" y="305.5" width="3.4" height="1.5"/><rect x="155.4" y="294.8" width="3.4" height="2.1"/><rect x="160.1" y="296.9" width="3.4" height="9.4"/><rect x="164.9" y="305.6" width="3.4" height="9.4"/><rect x="169.6" y="314.4" width="3.4" height="15"/><rect x="174.4" y="329.4" width="3.4" height="18.6"/><rect x="183.9" y="339.8" width="3.4" height="7.1"/><rect x="188.7" y="347.5" width="3.4" height="2.5"/><rect x="207.7" y="318" width="3.4" height="15"/><rect x="212.5" y="329.9" width="3.4" height="1.2"/><rect x="217.2" y="334.4" width="3.4" height="8.6"/><rect x="222" y="342" width="3.4" height="3"/><rect x="226.7" y="344.5" width="3.4" height="1.5"/><rect x="231.5" y="345" width="3.4" height="3.8"/><rect x="245.8" y="340" width="3.4" height="22.5"/><rect x="255.3" y="356.2" width="3.4" height="18.1"/><rect x="260" y="374.8" width="3.4" height="5.9"/><rect x="264.8" y="380" width="3.4" height="4.8"/><rect x="293.3" y="343" width="3.4" height="9.5"/><rect x="302.8" y="352.5" width="3.4" height="13.1"/><rect x="312.4" y="356.3" width="3.4" height="1.2"/><rect x="336.1" y="326.2" width="3.4" height="8.8"/><rect x="345.6" y="322" width="3.4" height="16"/><rect x="350.4" y="338.8" width="3.4" height="5.6"/><rect x="369.4" y="322.8" width="3.4" height="7.2"/><rect x="374.2" y="329.4" width="3.4" height="5.6"/><rect x="378.9" y="335" width="3.4" height="6.2"/><rect x="388.5" y="339.8" width="3.4" height="2.2"/><rect x="407.5" y="327.5" width="3.4" height="11.9"/><rect x="440.8" y="296.2" width="3.4" height="2.5"/><rect x="445.5" y="299" width="3.4" height="2.2"/><rect x="450.3" y="301" width="3.4" height="3.4"/><rect x="455.1" y="304.4" width="3.4" height="2.5"/><rect x="464.6" y="303" width="3.4" height="3"/><rect x="474.1" y="291.2" width="3.4" height="11.8"/><rect x="478.8" y="302.2" width="3.4" height="7.5"/><rect x="502.6" y="265" width="3.4" height="1.2"/><rect x="512.1" y="259.4" width="3.4" height="3.1"/><rect x="516.9" y="261.9" width="3.4" height="2.5"/><rect x="555" y="186.2" width="3.4" height="22.2"/><rect x="559.7" y="208.5" width="3.4" height="21.5"/><rect x="564.5" y="230" width="3.4" height="8"/><rect x="569.2" y="238" width="3.4" height="10"/><rect x="574" y="246.9" width="3.4" height="5.6"/><rect x="588.3" y="233.8" width="3.4" height="8.8"/><rect x="607.3" y="223" width="3.4" height="24.2"/><rect x="612" y="245.6" width="3.4" height="1.3"/><rect x="616.8" y="247.5" width="3.4" height="4.4"/><rect x="621.6" y="251.2" width="3.4" height="11.8"/><rect x="635.8" y="253" width="3.4" height="23.2"/><rect x="640.6" y="276.2" width="3.4" height="8.1"/><rect x="645.3" y="283.8" width="3.4" height="18.1"/><rect x="654.9" y="296.9" width="3.4" height="15.9"/><rect x="683.4" y="280" width="3.4" height="18.5"/><rect x="707.2" y="266.6" width="3.4" height="1.2"/></g>
</g>
<rect x="228.5" y="337.5" width="590.5" height="19" fill="#f23645" fill-opacity="0.2" stroke="#78b684" stroke-width="1"/>
<path d="M347 351 L809.5 305.2" stroke="#6039b8" stroke-width="2.2" fill="none"/>
<path d="M559.4 202.8 L728.5 301" stroke="#3c9a41" stroke-width="2.1" fill="none" stroke-linecap="round"/>
<path d="M723.5 262.5 L780.5 129.5 M768 135 L780.5 129.5 L785.8 142.5" stroke="#43a047" stroke-width="2.2" fill="none" stroke-linecap="round" stroke-linejoin="round"/>
<path d="M713.4 271 L767.2 338.8 M767.6 325.2 L767.2 338.8 L753.5 336.8" stroke="#6039b8" stroke-width="2.2" fill="none" stroke-linecap="round" stroke-linejoin="round"/>
<path d="M771 338 L885.5 148.8 M872.5 151.8 L885.5 148.8 L888.8 162.5" stroke="#6039b8" stroke-width="2.2" fill="none" stroke-linecap="round" stroke-linejoin="round"/>
<text transform="translate(624.6,235.3) rotate(30)" font-size="13" fill="#e0475a" textLength="49.5" lengthAdjust="spacingAndGlyphs">trendline</text>
<path d="M745 339 H775.9 L780.8 332.2 L785.7 339 H816.5 a3 3 0 0 1 3 3 V359 a3 3 0 0 1 -3 3 H745 a3 3 0 0 1 -3 -3 V342 a3 3 0 0 1 3 -3 Z" fill="#3257ee"/>
<rect x="742" y="339" width="77" height="17.6" fill="#f5a0b0" fill-opacity="0.18"/>
<path d="M742 356.6 H819" stroke="#4f9fb0" stroke-width="1"/>
<text x="747" y="355.2" font-size="12" font-weight="bold" fill="#4a40a8" textLength="67" lengthAdjust="spacingAndGlyphs">POC: 151.15</text>
<path d="M812 262.7 H881.3 a3 3 0 0 1 3 3 V282.2 a3 3 0 0 1 -3 3 H813 L803.3 290.8 L809 280 V265.7 a3 3 0 0 1 3 -3 Z" fill="#2a2e39"/>
<text x="817" y="278" font-size="12" fill="#ffffff" textLength="59" lengthAdjust="spacingAndGlyphs">Check MTF</text>
<g fill="none" stroke-linecap="round">
<path d="M704.2 484.1 A9.3 9.3 0 0 1 712.5 482.6" stroke="#8b57d6" stroke-width="1.5"/>
<path d="M718.9 489.5 A9.3 9.3 0 0 1 702.6 497.4" stroke="#8b57d6" stroke-width="1.5"/>
<path d="M704.2 484.1 A9.3 9.3 0 0 0 700.9 489" stroke="#8b57d6" stroke-width="1.5"/>
</g>
<circle cx="715.6" cy="485.4" r="2.4" fill="#f23645"/>
<path d="M699.6 490.6 L701 494 L704.2 495.3 L701 496.6 L699.6 500 L698.2 496.6 L695 495.3 L698.2 494 Z" fill="#6a4df5"/>
<path d="M713 485.6 L706.3 491.9 L709.6 492.3 L706.2 497.4 L713.6 490.8 L710.3 490.4 Z" fill="url(#bolt)" stroke="url(#bolt)" stroke-width="0.5" stroke-linejoin="round"/>
<g clip-path="url(#flagclip)">
<rect x="744" y="483" width="16" height="17" fill="#ffffff"/>
<rect x="744" y="484.6" width="16" height="1.7" fill="#e8505b"/>
<rect x="744" y="487.9" width="16" height="1.7" fill="#e8505b"/>
<rect x="744" y="491.1" width="16" height="1.7" fill="#e8505b"/>
<rect x="744" y="494.4" width="16" height="1.7" fill="#e8505b"/>
<rect x="744" y="497.6" width="16" height="1.7" fill="#e8505b"/>
<rect x="744" y="483.5" width="8.6" height="8.2" fill="#4a90e2"/>
<g fill="#ffffff" fill-opacity="0.85"><circle cx="746" cy="485.3" r="0.45"/><circle cx="746" cy="487.2" r="0.45"/><circle cx="746" cy="489.1" r="0.45"/><circle cx="746" cy="491" r="0.45"/><circle cx="747.9" cy="485.3" r="0.45"/><circle cx="747.9" cy="487.2" r="0.45"/><circle cx="747.9" cy="489.1" r="0.45"/><circle cx="747.9" cy="491" r="0.45"/><circle cx="749.8" cy="485.3" r="0.45"/><circle cx="749.8" cy="487.2" r="0.45"/><circle cx="749.8" cy="489.1" r="0.45"/><circle cx="749.8" cy="491" r="0.45"/><circle cx="751.7" cy="485.3" r="0.45"/><circle cx="751.7" cy="487.2" r="0.45"/><circle cx="751.7" cy="489.1" r="0.45"/><circle cx="751.7" cy="491" r="0.45"/></g>
</g>
<circle cx="752" cy="491.5" r="9.2" fill="none" stroke="#e4474f" stroke-width="1.5"/>
<rect x="75.5" y="550.3" width="891.5" height="78.1" fill="#7e57c2" fill-opacity="0.1"/>
<path d="M75.5 550.3 H967" stroke="#8f8d9c" stroke-width="1" stroke-dasharray="5 5.15" stroke-opacity="1"/>
<path d="M75.5 589.4 H967" stroke="#8f8d9c" stroke-width="1" stroke-dasharray="5 5.15" stroke-opacity="0.75"/>
<path d="M75.5 628.4 H967" stroke="#8f8d9c" stroke-width="1" stroke-dasharray="5 5.15" stroke-opacity="1"/>
<polygon points="523.5,550.3 528.1,544.5 533,542.1 537.5,529.4 541.8,525.5 547.1,521.6 552,518.1 556.8,549.9 556.9,550.3" fill="url(#rsig)"/>
<polyline points="74.9,605.6 77.4,606 79.9,606.5 82.4,607 84.9,607.5 87.4,608 89.9,608.6 92.5,609.3 95,610.2 97.5,611.2 100,612.1 102.5,612.8 105,613.3 107.5,613.4 110,613.2 112.5,612.6 115,612 117.5,611.3 120,610.7 122.5,610.2 125.1,609.7 127.6,609.3 130.1,608.8 132.6,608.4 135.1,607.8 137.6,607.2 140.1,606.5 142.6,605.7 145.1,604.8 147.6,603.8 150.1,602.5 152.6,600.9 155.1,599.2 157.6,597.7 160.2,596.7 162.7,596 165.2,595.3 167.7,594.8 170.2,594.5 172.7,594.5 175.2,594.5 177.7,594.5 180.2,594.5 182.7,594.5 185.2,594.5 187.7,594.5 190.2,594.5 192.8,594.5 195.3,594.5 197.8,594.6 200.3,594.6 202.8,594.7 205.3,594.8 207.8,594.9 210.3,595.3 212.8,595.9 215.3,596.6 217.8,597.7 220.3,599 222.8,600.2 225.4,601.1 227.9,601.6 230.4,602 232.9,602.4 235.4,602.6 237.9,602.7 240.4,602.7 242.9,602.7 245.4,602.7 247.9,602.7 250.4,602.7 252.9,602.7 255.4,602.9 257.9,603.5 260.5,604.4 263,605.4 265.5,606.6 268,608.2 270.5,609.3 273,609.5 275.5,609.3 278,608.9 280.5,608.6 283,608.2 285.5,607.8 288,607.3 290.5,606.8 293.1,606.3 295.6,605.7 298.1,605.2 300.6,604.7 303.1,604.2 305.6,603.8 308.1,603.4 310.6,602.8 313.1,602.2 315.6,601.3 318.1,599.9 320.6,598.1 323.1,596.1 325.7,594.4 328.2,592.9 330.7,591.5 333.2,590.1 335.7,588.9 338.2,588 340.7,587.2 343.2,586.5 345.7,586 348.2,585.4 350.7,584.9 353.2,584.5 355.7,584.1 358.2,583.7 360.8,583.3 363.3,582.7 365.8,581.8 368.3,580.8 370.8,580 373.3,579.4 375.8,579.2 378.3,579.2 380.8,579.2 383.3,579.2 385.8,579.5 388.3,580.1 390.8,580.9 393.4,581.7 395.9,582.4 398.4,582.7 400.9,583.1 403.4,583.4 405.9,583.5 408.4,583.5 410.9,583.4 413.4,583.4 415.9,583.3 418.4,583.2 420.9,583.1 423.4,582.9 426,582.6 428.5,582.3 431,581.9 433.5,581.3 436,580.3 438.5,579 441,577.6 443.5,576.3 446,575.3 448.5,574.3 451,573.3 453.5,572.4 456,571.4 458.5,570.6 461.1,569.7 463.6,568.9 466.1,568.1 468.6,567.3 471.1,566.6 473.6,565.9 476.1,565.3 478.6,564.8 481.1,564.3 483.6,563.9 486.1,563.5 488.6,563.1 491.1,562.7 493.7,562.3 496.2,561.9 498.7,561.6 501.2,561.2 503.7,560.9 506.2,560.4 508.7,560 511.2,559.5 513.7,559.1 516.2,558.6 518.7,558 521.2,557.5 523.7,557 526.3,556.4 528.8,555.8 531.3,555.1 533.8,554 536.3,552.6 538.8,551 541.3,549.2 543.8,547.2 546.3,544.8 548.8,542.5 551.3,541.2 553.8,540.8 556.3,540.5 558.8,540.6 561.4,541.4 563.9,542.5 566.4,543.7 568.9,544.8 571.4,546.1 573.9,547.4 576.4,548.7 578.9,549.9 581.4,551 583.9,552.1 586.4,553.2 588.9,554.3 591.4,555.4 594,556.5 596.5,557.6 599,558.7 601.5,559.9 604,561.4 606.5,563.4 609,566 611.5,568.8 614,571.3 616.5,573.7 619,576 621.5,578 624,579.7 626.6,581.1 629.1,582.3 631.6,583.3 634.1,584.3 636.6,585.1 639.1,585.9 641.6,586.7 644.1,587.7 646.6,589.2 649.1,591 651.6,592.8 654.1,594.7 656.6,596.7 659.1,598.5 661.7,600.2 664.2,601.9 666.7,603.3 669.2,604.6 671.7,605.5 674.2,606.3 676.7,607 679.2,607.5 681.7,608 684.2,608.5 686.7,608.8 689.2,608.9 691.7,608.9 694.3,608.8 696.8,608.6 699.3,608.4 701.8,607.8 704.3,607 706.8,605.9 709.3,604.6" fill="none" stroke="#f2de82" stroke-width="1.5" stroke-linejoin="round"/>
<polyline points="74.9,608.5 80.2,597.8 85.6,607 90.5,605.6 95.4,610.5 99.3,611.4 104.8,623.6 109,611.4 113.4,612.8 118.8,604.6 123.7,606.2 128.6,607.5 133.5,599.1 138.4,591.9 143.2,580.2 147.7,580.6 152,572 156.9,573.8 161.8,581.2 166.7,590.9 171.6,603.6 176,614.4 180.7,606.6 185.2,611.4 190.1,613.6 195,608.1 199.9,591 204.4,584.7 209,596.2 214.1,597.2 218.8,602.7 223.3,604.6 227.8,605.6 232.5,607.9 237.6,601.7 242.9,598.8 247.3,615.4 252,609.5 256.5,621.2 261.4,624.1 266.2,626.7 270.7,618.3 275.6,591.9 280.5,590.9 285.4,588.4 290.3,587.4 295.2,593.9 299.6,594.5 304.3,604.6 309.8,595.8 314.1,595.8 318.6,583.1 323.5,574.3 328.4,571.4 333.2,568.9 338.1,578.2 342.4,568.5 347.3,585.1 351.8,590 357.1,585.5 361.6,578.2 366.4,572.4 371.3,580.2 376.2,586 381.1,591.3 386,590 390.5,591.3 394.8,590.4 399.6,579.2 404.9,576.9 409.4,589.4 414.3,582.7 418.6,581.2 423.7,574.3 428.6,567.1 432.9,565.5 437.7,550.9 442.6,552.9 447.5,557.3 452.4,562.2 456.9,566.5 461.7,563.2 466.2,566.9 470.9,554.2 475.8,570.4 480.7,579.6 485.2,570.4 490,563 494.5,550.9 499.8,546.4 504.1,547.4 509,544.1 513.5,548.4 518.4,551.1 523.2,550.7 528.1,544.5 533,542.1 537.5,529.4 541.8,525.5 547.1,521.6 552,518.1 556.8,549.9 561.3,567.1 566.2,574.3 571.1,580.8 576,584.7 580.5,574.9 585.2,573.4 589.6,579.8 594.5,576.3 599.4,573 604.3,567.5 609.2,588 614.1,589 618.9,591.9 623.8,599.7 628.1,598.8 633,591.9 637.9,607.5 642.4,612.4 647.4,622.2 652.1,617.3 656.6,625.7 661.5,617.7 666.4,616.3 671.2,615 676.1,596.8 680.6,594.2 685.3,606.6 689.8,606.6 694.7,596.8 699.6,586 704.5,581.6 709.3,581.6" fill="none" stroke="#7d62b6" stroke-width="1.15" stroke-linejoin="round"/>
<text x="82.5" y="42.5" font-size="11" fill="#131722" stroke="#131722" stroke-width="0.22" textLength="190" lengthAdjust="spacingAndGlyphs" >Solana / U.S. Dollar · 12h · COINBASE</text>
<text x="280.5" y="42.5" font-size="11" fill="#131722" stroke="#131722" stroke-width="0.22" textLength="8.5" lengthAdjust="spacingAndGlyphs" >O</text>
<text x="290.2" y="42.5" font-size="11" fill="#ea4756" textLength="31" lengthAdjust="spacingAndGlyphs" >175.41</text>
<text x="328" y="42.5" font-size="11" fill="#131722" stroke="#131722" stroke-width="0.22" textLength="7.6" lengthAdjust="spacingAndGlyphs" >H</text>
<text x="336.4" y="42.5" font-size="11" fill="#ea4756" textLength="32.4" lengthAdjust="spacingAndGlyphs" >175.97</text>
<text x="376.2" y="42.5" font-size="11" fill="#131722" stroke="#131722" stroke-width="0.22" textLength="5.4" lengthAdjust="spacingAndGlyphs" >L</text>
<text x="382.2" y="42.5" font-size="11" fill="#ea4756" textLength="32.8" lengthAdjust="spacingAndGlyphs" >173.47</text>
<text x="422.5" y="42.5" font-size="11" fill="#131722" stroke="#131722" stroke-width="0.22" textLength="7.8" lengthAdjust="spacingAndGlyphs" >C</text>
<text x="431.2" y="42.5" font-size="11" fill="#ea4756" textLength="32.5" lengthAdjust="spacingAndGlyphs" >175.33</text>
<text x="471.2" y="42.5" font-size="11" fill="#ea4756" textLength="28.3" lengthAdjust="spacingAndGlyphs" >−0.08</text>
<text x="505" y="42.5" font-size="11" fill="#ea4756" textLength="46.2" lengthAdjust="spacingAndGlyphs" >(−0.05%)</text>
<text x="82.5" y="58.2" font-size="11" fill="#131722" stroke="#131722" stroke-width="0.22" textLength="228" lengthAdjust="spacingAndGlyphs" >Volume Profile / Fixed Range (150, 24, 70, 2)</text>
<text x="82.5" y="74.2" font-size="11" fill="#131722" stroke="#131722" stroke-width="0.22" textLength="55.5" lengthAdjust="spacingAndGlyphs" >Daily Lines</text>
<text x="145" y="74.2" font-size="11" fill="#f6f34e" textLength="32" lengthAdjust="spacingAndGlyphs" >178.31</text>
<text x="183.8" y="74.2" font-size="11" fill="#2e9e3a" textLength="35" lengthAdjust="spacingAndGlyphs" >163.69</text>
<text x="225.8" y="74.2" font-size="11" fill="#2a2ad8" textLength="34.2" lengthAdjust="spacingAndGlyphs" >162.29</text>
<text x="267" y="74.2" font-size="11" fill="#e3262e" textLength="34.2" lengthAdjust="spacingAndGlyphs" >160.52</text>
<text x="82.5" y="89.8" font-size="11" fill="#131722" stroke="#131722" stroke-width="0.22" textLength="350.5" lengthAdjust="spacingAndGlyphs" >MRC (hlc3, SuperSmoother, 200, 1, 2.415, 60, On Hover, Auto, D, W)</text>
<text x="440.5" y="89.8" font-size="11" fill="#f3c623" textLength="32.5" lengthAdjust="spacingAndGlyphs" >167.02</text>
<text x="481.2" y="89.8" font-size="11" fill="#5cb460" textLength="33.8" lengthAdjust="spacingAndGlyphs" >188.09</text>
<text x="522.5" y="89.8" font-size="11" fill="#5cb460" textLength="33.8" lengthAdjust="spacingAndGlyphs" >145.95</text>
<text x="563.8" y="89.8" font-size="11" fill="#f0606c" textLength="32.5" lengthAdjust="spacingAndGlyphs" >217.90</text>
<text x="603.8" y="89.8" font-size="11" fill="#f0606c" textLength="30.7" lengthAdjust="spacingAndGlyphs" >116.14</text>
<text x="82.7" y="522.6" font-size="11" fill="#131722" stroke="#131722" stroke-width="0.22" textLength="73" lengthAdjust="spacingAndGlyphs" >RSI (14, close)</text>
<text x="163.4" y="522.6" font-size="11" fill="#7e57c2" textLength="28" lengthAdjust="spacingAndGlyphs" >53.77</text>
<text x="198.5" y="522.6" font-size="11" fill="#f3d64e" textLength="26" lengthAdjust="spacingAndGlyphs" >42.11</text>
<rect x="13.5" y="29.5" width="57.5" height="22" rx="3" fill="#ffffff" stroke="#f0f2f6" stroke-width="1"/>
<text x="21.5" y="43.5" font-size="11" fill="#131722" stroke="#131722" stroke-width="0.22" textLength="22.5" lengthAdjust="spacingAndGlyphs" >USD</text>
<text x="29.2" y="98.1" font-size="11" fill="#131722" stroke="#131722" stroke-width="0.22" textLength="37.5" lengthAdjust="spacingAndGlyphs" >240.00</text>
<text x="29.2" y="151.8" font-size="11" fill="#131722" stroke="#131722" stroke-width="0.22" textLength="37.5" lengthAdjust="spacingAndGlyphs" >220.00</text>
<text x="29.2" y="205.5" font-size="11" fill="#131722" stroke="#131722" stroke-width="0.22" textLength="37.5" lengthAdjust="spacingAndGlyphs" >200.00</text>
<text x="29.2" y="420.4" font-size="11" fill="#131722" stroke="#131722" stroke-width="0.22" textLength="37.5" lengthAdjust="spacingAndGlyphs" >120.00</text>
<text x="29.2" y="474.1" font-size="11" fill="#131722" stroke="#131722" stroke-width="0.22" textLength="37.5" lengthAdjust="spacingAndGlyphs" >100.00</text>
<rect x="23.8" y="146.4" width="50.8" height="14.8" rx="2.5" fill="#f2535c"/>
<text x="31.2" y="157.9" font-size="11" fill="#fff" textLength="35.2" lengthAdjust="spacingAndGlyphs" >217.90</text>
<rect x="24.1" y="226" width="50.5" height="14.9" rx="2.5" fill="#4caf50"/>
<text x="31.2" y="237.7" font-size="11" fill="#fff" textLength="35.2" lengthAdjust="spacingAndGlyphs" >188.09</text>
<rect x="24.1" y="244.7" width="50.5" height="15.1" rx="2.5" fill="#fdf62a"/>
<text x="31.2" y="256.4" font-size="11" fill="#131723" textLength="35.2" lengthAdjust="spacingAndGlyphs" >178.31</text>
<rect x="13.9" y="260.3" width="60.7" height="28" rx="3" fill="#ee3d52"/>
<text x="30.7" y="271.5" font-size="11" fill="#fff" textLength="35.8" lengthAdjust="spacingAndGlyphs" >175.33</text>
<text x="19.5" y="284.2" font-size="11" fill="#fbd0d5" textLength="47" lengthAdjust="spacingAndGlyphs" >04:34:09</text>
<rect x="24.1" y="288.8" width="50.5" height="15.1" rx="2.5" fill="#fcc419"/>
<text x="31.2" y="300.5" font-size="11" fill="#131723" textLength="35.2" lengthAdjust="spacingAndGlyphs" >167.02</text>
<rect x="24.1" y="304.5" width="50.5" height="14.9" rx="2.5" fill="#0e8a16"/>
<text x="31.2" y="316.1" font-size="11" fill="#fff" textLength="35.2" lengthAdjust="spacingAndGlyphs" >163.69</text>
<rect x="24.1" y="320" width="50.5" height="15" rx="2.5" fill="#0b0bf5"/>
<text x="31.2" y="331.7" font-size="11" fill="#fff" textLength="35.2" lengthAdjust="spacingAndGlyphs" >162.29</text>
<rect x="24.1" y="335.7" width="50.5" height="15.1" rx="2.5" fill="#f40b0b"/>
<text x="31.2" y="347.4" font-size="11" fill="#fff" textLength="35.2" lengthAdjust="spacingAndGlyphs" >160.52</text>
<rect x="24.1" y="351.6" width="50.5" height="14.7" rx="2.5" fill="#4caf50"/>
<text x="31.2" y="363.2" font-size="11" fill="#fff" textLength="35.2" lengthAdjust="spacingAndGlyphs" >145.95</text>
<rect x="23.8" y="418" width="50.8" height="14.8" rx="2.5" fill="#f2535c"/>
<text x="31.2" y="429.6" font-size="11" fill="#fff" textLength="35.2" lengthAdjust="spacingAndGlyphs" >116.14</text>
<rect x="75.4" y="260.3" width="51.6" height="14.6" rx="2.5" fill="#ee3d52"/>
<text x="79.4" y="271.5" font-size="11" fill="#fff" textLength="43.4" lengthAdjust="spacingAndGlyphs" >SOLUSD</text>
<text x="976.2" y="534.8" font-size="11" fill="#131722" stroke="#131722" stroke-width="0.22" textLength="30" lengthAdjust="spacingAndGlyphs" >80.00</text>
<text x="976.2" y="574.2" font-size="11" fill="#131722" stroke="#131722" stroke-width="0.22" textLength="30" lengthAdjust="spacingAndGlyphs" >60.00</text>
<text x="976.2" y="612.8" font-size="11" fill="#131722" stroke="#131722" stroke-width="0.22" textLength="30" lengthAdjust="spacingAndGlyphs" >40.00</text>
<rect x="968" y="574.3" width="43.3" height="15" rx="2" fill="#7e57c2"/>
<text x="976" y="586" font-size="11" fill="#fff" textLength="30" lengthAdjust="spacingAndGlyphs" >53.77</text>
<rect x="968" y="597.5" width="43.3" height="15" rx="2" fill="#fbd132"/>
<text x="976" y="609.3" font-size="11" fill="#131723" textLength="30" lengthAdjust="spacingAndGlyphs" >42.11</text>
<text x="109" y="658.2" font-size="11.5" fill="#131722" stroke="#131722" stroke-width="0.22" text-anchor="middle" >6</text>
<text x="156.6" y="658.2" font-size="11.5" fill="#131722" stroke="#131722" stroke-width="0.22" text-anchor="middle" >11</text>
<text x="204.2" y="658.2" font-size="11.5" fill="#131722" stroke="#131722" stroke-width="0.22" text-anchor="middle" >16</text>
<text x="251.8" y="658.2" font-size="11.5" fill="#131722" stroke="#131722" stroke-width="0.22" text-anchor="middle" >21</text>
<text x="299.4" y="658.2" font-size="11.5" fill="#131722" stroke="#131722" stroke-width="0.22" text-anchor="middle" >26</text>
<text x="347" y="658.2" font-size="11.5" fill="#131722" stroke="#131722" stroke-width="0.22" text-anchor="middle" font-weight="bold" >Jul</text>
<text x="394.6" y="658.2" font-size="11.5" fill="#131722" stroke="#131722" stroke-width="0.22" text-anchor="middle" >6</text>
<text x="442.2" y="658.2" font-size="11.5" fill="#131722" stroke="#131722" stroke-width="0.22" text-anchor="middle" >11</text>
<text x="489.8" y="658.2" font-size="11.5" fill="#131722" stroke="#131722" stroke-width="0.22" text-anchor="middle" >16</text>
<text x="537.4" y="658.2" font-size="11.5" fill="#131722" stroke="#131722" stroke-width="0.22" text-anchor="middle" >21</text>
<text x="585" y="658.2" font-size="11.5" fill="#131722" stroke="#131722" stroke-width="0.22" text-anchor="middle" >26</text>
<text x="642.2" y="658.2" font-size="11.5" fill="#131722" stroke="#131722" stroke-width="0.22" text-anchor="middle" font-weight="bold" >Aug</text>
<text x="689.8" y="658.2" font-size="11.5" fill="#131722" stroke="#131722" stroke-width="0.22" text-anchor="middle" >6</text>
<text x="737.4" y="658.2" font-size="11.5" fill="#131722" stroke="#131722" stroke-width="0.22" text-anchor="middle" >11</text>
<text x="785" y="658.2" font-size="11.5" fill="#131722" stroke="#131722" stroke-width="0.22" text-anchor="middle" >16</text>
<text x="832.6" y="658.2" font-size="11.5" fill="#131722" stroke="#131722" stroke-width="0.22" text-anchor="middle" >21</text>
<text x="880.2" y="658.2" font-size="11.5" fill="#131722" stroke="#131722" stroke-width="0.22" text-anchor="middle" >26</text>
<text x="937.3" y="658.2" font-size="11.5" fill="#131722" stroke="#131722" stroke-width="0.22" text-anchor="middle" font-weight="bold" >Sep</text>
<circle cx="43" cy="653.8" r="8" fill="#f0f2f6"/>
<text x="43" y="657" font-size="8.5" fill="#50535e" text-anchor="middle" >Z</text>
<circle cx="991.8" cy="654.2" r="8" fill="#f0f2f6"/>
<text x="991.8" y="657.6" font-size="9" fill="#50535e" text-anchor="middle" >A</text>
<path d="M10.8 686.3 H21.9 V699.3 H16.1 V691.8 H10.8 Z" fill="#131722"/>
<circle cx="26.2" cy="689" r="2.75" fill="#131722"/>
<path d="M29.9 686.3 H38.2 L34 699.3 H25.7 Z" fill="#131722"/>
<text x="44" y="699.3" font-size="18.5" fill="#0c0e14" stroke="#0c0e14" stroke-width="0.22" textLength="111.3" lengthAdjust="spacingAndGlyphs" font-weight="bold" >TradingView</text>
</svg></body></html>
